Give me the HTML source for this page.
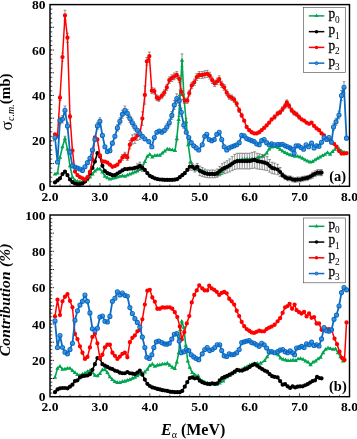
<!DOCTYPE html>
<html lang="en"><head><meta charset="utf-8"><title>Figure</title>
<style>
html,body{margin:0;padding:0;background:#fff;}
body{width:357px;height:439px;overflow:hidden;}
svg{display:block;will-change:transform;}
text{font-family:"Liberation Serif","DejaVu Serif",serif;fill:#000;}
.tk{font-size:13.5px;font-weight:bold;}
.lg{font-size:15.4px;stroke:#000;stroke-width:0.3px;}
.lgs{font-size:9.3px;}
.ax{font-size:15.5px;font-weight:bold;}
.pl{font-size:14.5px;font-weight:bold;}
</style></head><body>
<svg width="357" height="439" viewBox="0 0 357 439">
<rect width="357" height="439" fill="#fff"/>
<g>
<clipPath id="clipa"><rect x="50" y="4.6" width="299.5" height="181.7"/></clipPath>
<g clip-path="url(#clipa)">
<path d="M64.97 136.22V140.99M63.57 136.22h2.8M63.57 140.99h2.8M176.79 136.22V140.99M175.39 136.22h2.8M175.39 140.99h2.8M178.64 116.19V122.86M177.24 116.19h2.8M177.24 122.86h2.8M180.08 89.95V99.13M178.68 89.95h2.8M178.68 99.13h2.8M182.03 53.94V66.55M180.63 53.94h2.8M180.63 66.55h2.8M184.03 94.25V103.01M182.63 94.25h2.8M182.63 103.01h2.8M186.17 118.57V125.02M184.77 118.57h2.8M184.77 125.02h2.8" fill="none" stroke="#5a5a5a" stroke-width="0.65"/>
<path d="M54.99 174.04L57.49 173.13L59.98 157.46L62.48 146.78L64.97 138.6L67.47 149.05L69.97 165.86L72.46 177.22L74.96 180.39L77.45 181.3L79.95 181.76L82.45 181.76L84.94 181.3L87.44 179.94L89.93 177.22L92.43 174.04L94.92 171.08L97.42 169.04L99.92 169.04L102.41 171.99L104.91 176.31L107.4 177.9L109.9 179.03L112.4 178.35L114.89 177.9L117.39 177.22L119.88 176.31L122.38 175.85L124.88 176.31L127.37 175.17L129.87 174.04L132.36 173.13L134.86 171.99L137.35 171.08L139.85 169.72L142.35 167.9L144.84 161.54L147.34 156.32L149.83 154.28L152.33 157L154.82 155.64L157.32 155.41L159.82 155.41L162.31 153.14L164.81 151.1L167.3 149.05L169.8 149.51L172.3 149.96L175.04 150.64L176.79 138.6L178.64 119.53L180.08 94.54L182.03 60.25L184.03 98.63L186.17 121.8L188.27 144.74L190.62 161.54L193.11 166.77L195.26 167.9L197.75 169.95L199.75 169.95L202.25 170.86L204.74 171.99L207.24 173.13L209.73 173.81L212.23 174.04L214.72 174.49L217.22 174.94L219.72 173.81L222.21 171.54L224.71 169.04L227.2 167.22L229.7 165.4L232.2 163.59L234.69 161.77L237.19 160.41L239.68 159.95L242.18 159.5L244.68 159.27L247.17 159.05L249.67 159.05L252.16 159.05L254.66 158.82L257.15 158.36L258.65 157.46L262.64 156.32L266.64 153.14L269.13 149.05L271.63 147.01L274.62 146.55L278.12 147.69L280.12 149.28L282.61 151.1L285.11 152.69L287.6 153.82L290.1 154.96L292.6 155.64L295.09 156.32L297.59 156.32L300.08 157L302.58 158.36L305.07 159.95L307.57 161.09L310.07 162L312.56 161.54L315.06 159.95L317.55 158.36L320.05 157L322.55 155.64L325.04 154.28L327.54 152.69L330.03 154.28L332.53 151.55L335.02 149.28L336.52 146.78L339.02 148.82L341.51 151.1L344.01 152.23" fill="none" stroke="#00a550" stroke-width="1.6" stroke-linejoin="round" stroke-linecap="round"/>
<path d="M54.99 171.64l2.2 3.8h-4.4zM57.49 170.73l2.2 3.8h-4.4zM59.98 155.06l2.2 3.8h-4.4zM62.48 144.38l2.2 3.8h-4.4zM64.97 136.2l2.2 3.8h-4.4zM67.47 146.65l2.2 3.8h-4.4zM69.97 163.46l2.2 3.8h-4.4zM72.46 174.81l2.2 3.8h-4.4zM74.96 177.99l2.2 3.8h-4.4zM77.45 178.9l2.2 3.8h-4.4zM79.95 179.36l2.2 3.8h-4.4zM82.45 179.36l2.2 3.8h-4.4zM84.94 178.9l2.2 3.8h-4.4zM87.44 177.54l2.2 3.8h-4.4zM89.93 174.81l2.2 3.8h-4.4zM92.43 171.64l2.2 3.8h-4.4zM94.92 168.68l2.2 3.8h-4.4zM97.42 166.64l2.2 3.8h-4.4zM99.92 166.64l2.2 3.8h-4.4zM102.41 169.59l2.2 3.8h-4.4zM104.91 173.91l2.2 3.8h-4.4zM107.4 175.5l2.2 3.8h-4.4zM109.9 176.63l2.2 3.8h-4.4zM112.4 175.95l2.2 3.8h-4.4zM114.89 175.5l2.2 3.8h-4.4zM117.39 174.81l2.2 3.8h-4.4zM119.88 173.91l2.2 3.8h-4.4zM122.38 173.45l2.2 3.8h-4.4zM124.88 173.91l2.2 3.8h-4.4zM127.37 172.77l2.2 3.8h-4.4zM129.87 171.64l2.2 3.8h-4.4zM132.36 170.73l2.2 3.8h-4.4zM134.86 169.59l2.2 3.8h-4.4zM137.35 168.68l2.2 3.8h-4.4zM139.85 167.32l2.2 3.8h-4.4zM142.35 165.5l2.2 3.8h-4.4zM144.84 159.14l2.2 3.8h-4.4zM147.34 153.92l2.2 3.8h-4.4zM149.83 151.88l2.2 3.8h-4.4zM152.33 154.6l2.2 3.8h-4.4zM154.82 153.24l2.2 3.8h-4.4zM157.32 153.01l2.2 3.8h-4.4zM159.82 153.01l2.2 3.8h-4.4zM162.31 150.74l2.2 3.8h-4.4zM164.81 148.7l2.2 3.8h-4.4zM167.3 146.65l2.2 3.8h-4.4zM169.8 147.11l2.2 3.8h-4.4zM172.3 147.56l2.2 3.8h-4.4zM175.04 148.24l2.2 3.8h-4.4zM176.79 136.2l2.2 3.8h-4.4zM178.64 117.13l2.2 3.8h-4.4zM180.08 92.14l2.2 3.8h-4.4zM182.03 57.85l2.2 3.8h-4.4zM184.03 96.23l2.2 3.8h-4.4zM186.17 119.4l2.2 3.8h-4.4zM188.27 142.34l2.2 3.8h-4.4zM190.62 159.14l2.2 3.8h-4.4zM193.11 164.37l2.2 3.8h-4.4zM195.26 165.5l2.2 3.8h-4.4zM197.75 167.55l2.2 3.8h-4.4zM199.75 167.55l2.2 3.8h-4.4zM202.25 168.46l2.2 3.8h-4.4zM204.74 169.59l2.2 3.8h-4.4zM207.24 170.73l2.2 3.8h-4.4zM209.73 171.41l2.2 3.8h-4.4zM212.23 171.64l2.2 3.8h-4.4zM214.72 172.09l2.2 3.8h-4.4zM217.22 172.54l2.2 3.8h-4.4zM219.72 171.41l2.2 3.8h-4.4zM222.21 169.14l2.2 3.8h-4.4zM224.71 166.64l2.2 3.8h-4.4zM227.2 164.82l2.2 3.8h-4.4zM229.7 163l2.2 3.8h-4.4zM232.2 161.19l2.2 3.8h-4.4zM234.69 159.37l2.2 3.8h-4.4zM237.19 158.01l2.2 3.8h-4.4zM239.68 157.55l2.2 3.8h-4.4zM242.18 157.1l2.2 3.8h-4.4zM244.68 156.87l2.2 3.8h-4.4zM247.17 156.65l2.2 3.8h-4.4zM249.67 156.65l2.2 3.8h-4.4zM252.16 156.65l2.2 3.8h-4.4zM254.66 156.42l2.2 3.8h-4.4zM257.15 155.96l2.2 3.8h-4.4zM258.65 155.06l2.2 3.8h-4.4zM262.64 153.92l2.2 3.8h-4.4zM266.64 150.74l2.2 3.8h-4.4zM269.13 146.65l2.2 3.8h-4.4zM271.63 144.61l2.2 3.8h-4.4zM274.62 144.15l2.2 3.8h-4.4zM278.12 145.29l2.2 3.8h-4.4zM280.12 146.88l2.2 3.8h-4.4zM282.61 148.7l2.2 3.8h-4.4zM285.11 150.29l2.2 3.8h-4.4zM287.6 151.42l2.2 3.8h-4.4zM290.1 152.56l2.2 3.8h-4.4zM292.6 153.24l2.2 3.8h-4.4zM295.09 153.92l2.2 3.8h-4.4zM297.59 153.92l2.2 3.8h-4.4zM300.08 154.6l2.2 3.8h-4.4zM302.58 155.96l2.2 3.8h-4.4zM305.07 157.55l2.2 3.8h-4.4zM307.57 158.69l2.2 3.8h-4.4zM310.07 159.6l2.2 3.8h-4.4zM312.56 159.14l2.2 3.8h-4.4zM315.06 157.55l2.2 3.8h-4.4zM317.55 155.96l2.2 3.8h-4.4zM320.05 154.6l2.2 3.8h-4.4zM322.55 153.24l2.2 3.8h-4.4zM325.04 151.88l2.2 3.8h-4.4zM327.54 150.29l2.2 3.8h-4.4zM330.03 151.88l2.2 3.8h-4.4zM332.53 149.15l2.2 3.8h-4.4zM335.02 146.88l2.2 3.8h-4.4zM336.52 144.38l2.2 3.8h-4.4zM339.02 146.42l2.2 3.8h-4.4zM341.51 148.7l2.2 3.8h-4.4zM344.01 149.83l2.2 3.8h-4.4z" fill="#00a550"/>
<path d="M137.35 163.81V171.08M135.95 163.81h2.8M135.95 171.08h2.8M139.85 162.22V169.49M138.45 162.22h2.8M138.45 169.49h2.8M142.35 164.27V171.54M140.95 164.27h2.8M140.95 171.54h2.8M189.77 163.36V170.17M188.37 163.36h2.8M188.37 170.17h2.8M192.26 163.36V170.17M190.86 163.36h2.8M190.86 170.17h2.8M194.76 165.18V171.99M193.36 165.18h2.8M193.36 171.99h2.8M197.25 163.36V170.17M195.85 163.36h2.8M195.85 170.17h2.8M199.75 166.07V175.64M198.35 166.07h2.8M198.35 175.64h2.8M202.25 167.56V176.43M200.85 167.56h2.8M200.85 176.43h2.8M204.74 169.04V177.21M203.34 169.04h2.8M203.34 177.21h2.8M207.24 169.94V177.68M205.84 169.94h2.8M205.84 177.68h2.8M209.73 170.23V177.84M208.33 170.23h2.8M208.33 177.84h2.8M212.23 169.94V177.68M210.83 169.94h2.8M210.83 177.68h2.8M214.72 170.23V177.84M213.32 170.23h2.8M213.32 177.84h2.8M217.22 169.04V177.21M215.82 169.04h2.8M215.82 177.21h2.8M219.72 166.37V175.8M218.32 166.37h2.8M218.32 175.8h2.8M222.21 163.69V174.39M220.81 163.69h2.8M220.81 174.39h2.8M224.71 162.2V173.61M223.31 162.2h2.8M223.31 173.61h2.8M227.2 160.71V172.82M225.8 160.71h2.8M225.8 172.82h2.8M229.7 158.93V171.88M228.3 158.93h2.8M228.3 171.88h2.8M232.2 156.55V170.63M230.8 156.55h2.8M230.8 170.63h2.8M234.69 154.46V169.53M233.29 154.46h2.8M233.29 169.53h2.8M237.19 153.27V168.9M235.79 153.27h2.8M235.79 168.9h2.8M239.68 153.27V168.9M238.28 153.27h2.8M238.28 168.9h2.8M242.18 153.27V168.9M240.78 153.27h2.8M240.78 168.9h2.8M244.68 153.27V168.9M243.28 153.27h2.8M243.28 168.9h2.8M247.17 153.27V168.9M245.77 153.27h2.8M245.77 168.9h2.8M249.67 153.27V168.9M248.27 153.27h2.8M248.27 168.9h2.8M252.16 152.38V168.43M250.76 152.38h2.8M250.76 168.43h2.8M254.66 151.79V168.12M253.26 151.79h2.8M253.26 168.12h2.8M257.15 153.27V168.9M255.75 153.27h2.8M255.75 168.9h2.8M259.65 153.87V169.22M258.25 153.87h2.8M258.25 169.22h2.8M262.15 154.46V169.53M260.75 154.46h2.8M260.75 169.53h2.8M264.64 155.36V170M263.24 155.36h2.8M263.24 170h2.8M267.14 156.55V170.63M265.74 156.55h2.8M265.74 170.63h2.8M269.63 159.52V172.2M268.23 159.52h2.8M268.23 172.2h2.8M272.13 162.2V173.61M270.73 162.2h2.8M270.73 173.61h2.8M274.62 163.09V174.08M273.23 163.09h2.8M273.23 174.08h2.8M277.62 164.28V174.7M276.22 164.28h2.8M276.22 174.7h2.8M280.12 167.56V176.43M278.72 167.56h2.8M278.72 176.43h2.8M282.61 172.79V177.56M281.21 172.79h2.8M281.21 177.56h2.8M285.11 174.83V179.6M283.71 174.83h2.8M283.71 179.6h2.8M287.6 175.97V180.74M286.2 175.97h2.8M286.2 180.74h2.8M290.1 175.97V180.74M288.7 175.97h2.8M288.7 180.74h2.8M292.6 177.1V181.87M291.2 177.1h2.8M291.2 181.87h2.8M295.09 177.56V182.33M293.69 177.56h2.8M293.69 182.33h2.8M297.59 177.1V181.87M296.19 177.1h2.8M296.19 181.87h2.8M300.08 177.1V181.87M298.68 177.1h2.8M298.68 181.87h2.8M302.58 176.42V181.19M301.18 176.42h2.8M301.18 181.19h2.8M305.07 175.97V180.74M303.67 175.97h2.8M303.67 180.74h2.8M307.57 175.51V180.28M306.17 175.51h2.8M306.17 180.28h2.8M310.07 174.38V179.15M308.67 174.38h2.8M308.67 179.15h2.8M312.56 172.22V178.12M311.16 172.22h2.8M311.16 178.12h2.8M315.06 170.86V176.76M313.66 170.86h2.8M313.66 176.76h2.8M317.55 169.72V175.63M316.15 169.72h2.8M316.15 175.63h2.8M320.05 169.72V175.63M318.65 169.72h2.8M318.65 175.63h2.8M321.55 169.72V175.63M320.15 169.72h2.8M320.15 175.63h2.8" fill="none" stroke="#5a5a5a" stroke-width="0.65"/>
<path d="M54.99 182.44L57.49 180.39L59.98 178.35L62.48 174.04L64.97 171.54L67.47 175.17L69.97 179.49L72.46 182.21L74.96 183.57L77.45 184.03L79.95 184.03L82.45 183.57L84.94 181.53L87.44 178.35L89.93 173.13L92.43 167.9L94.92 161.54L97.42 153.14L99.92 156.32L102.41 165.86L104.91 171.08L107.4 173.13L109.9 174.04L112.4 175.17L114.89 175.17L117.39 173.58L119.88 171.99L122.38 170.4L124.88 169.04L127.37 169.04L129.87 168.58L132.36 168.58L134.86 167.9L137.35 167.45L139.85 165.86L142.35 167.9L144.84 169.95L147.34 173.13L149.83 175.85L152.33 177.22L154.82 178.35L157.32 179.03L159.82 179.49L162.31 179.71L164.81 179.94L167.3 179.94L169.8 179.94L172.3 179.94L174.79 179.71L177.29 179.03L179.78 177.22L182.28 175.17L184.78 173.13L187.27 169.95L189.77 166.77L192.26 166.77L194.76 168.58L197.25 166.77L199.75 170.86L202.25 171.99L204.74 173.13L207.24 173.81L209.73 174.04L212.23 173.81L214.72 174.04L217.22 173.13L219.72 171.08L222.21 169.04L224.71 167.9L227.2 166.77L229.7 165.4L232.2 163.59L234.69 162L237.19 161.09L239.68 161.09L242.18 161.09L244.68 161.09L247.17 161.09L249.67 161.09L252.16 160.41L254.66 159.95L257.15 161.09L259.65 161.54L262.15 162L264.64 162.68L267.14 163.59L269.63 165.86L272.13 167.9L274.62 168.58L277.62 169.49L280.12 171.99L282.61 175.17L285.11 177.22L287.6 178.35L290.1 178.35L292.6 179.49L295.09 179.94L297.59 179.49L300.08 179.49L302.58 178.8L305.07 178.35L307.57 177.9L310.07 176.76L312.56 175.17L315.06 173.81L317.55 172.67L320.05 172.67L321.55 172.67" fill="none" stroke="#000000" stroke-width="1.6" stroke-linejoin="round" stroke-linecap="round"/>
<path d="M52.89 182.44a2.1 2.1 0 1 0 4.2 0a2.1 2.1 0 1 0 -4.2 0zM55.39 180.39a2.1 2.1 0 1 0 4.2 0a2.1 2.1 0 1 0 -4.2 0zM57.88 178.35a2.1 2.1 0 1 0 4.2 0a2.1 2.1 0 1 0 -4.2 0zM60.38 174.04a2.1 2.1 0 1 0 4.2 0a2.1 2.1 0 1 0 -4.2 0zM62.87 171.54a2.1 2.1 0 1 0 4.2 0a2.1 2.1 0 1 0 -4.2 0zM65.37 175.17a2.1 2.1 0 1 0 4.2 0a2.1 2.1 0 1 0 -4.2 0zM67.87 179.49a2.1 2.1 0 1 0 4.2 0a2.1 2.1 0 1 0 -4.2 0zM70.36 182.21a2.1 2.1 0 1 0 4.2 0a2.1 2.1 0 1 0 -4.2 0zM72.86 183.57a2.1 2.1 0 1 0 4.2 0a2.1 2.1 0 1 0 -4.2 0zM75.35 184.03a2.1 2.1 0 1 0 4.2 0a2.1 2.1 0 1 0 -4.2 0zM77.85 184.03a2.1 2.1 0 1 0 4.2 0a2.1 2.1 0 1 0 -4.2 0zM80.35 183.57a2.1 2.1 0 1 0 4.2 0a2.1 2.1 0 1 0 -4.2 0zM82.84 181.53a2.1 2.1 0 1 0 4.2 0a2.1 2.1 0 1 0 -4.2 0zM85.34 178.35a2.1 2.1 0 1 0 4.2 0a2.1 2.1 0 1 0 -4.2 0zM87.83 173.13a2.1 2.1 0 1 0 4.2 0a2.1 2.1 0 1 0 -4.2 0zM90.33 167.9a2.1 2.1 0 1 0 4.2 0a2.1 2.1 0 1 0 -4.2 0zM92.82 161.54a2.1 2.1 0 1 0 4.2 0a2.1 2.1 0 1 0 -4.2 0zM95.32 153.14a2.1 2.1 0 1 0 4.2 0a2.1 2.1 0 1 0 -4.2 0zM97.82 156.32a2.1 2.1 0 1 0 4.2 0a2.1 2.1 0 1 0 -4.2 0zM100.31 165.86a2.1 2.1 0 1 0 4.2 0a2.1 2.1 0 1 0 -4.2 0zM102.81 171.08a2.1 2.1 0 1 0 4.2 0a2.1 2.1 0 1 0 -4.2 0zM105.3 173.13a2.1 2.1 0 1 0 4.2 0a2.1 2.1 0 1 0 -4.2 0zM107.8 174.04a2.1 2.1 0 1 0 4.2 0a2.1 2.1 0 1 0 -4.2 0zM110.3 175.17a2.1 2.1 0 1 0 4.2 0a2.1 2.1 0 1 0 -4.2 0zM112.79 175.17a2.1 2.1 0 1 0 4.2 0a2.1 2.1 0 1 0 -4.2 0zM115.29 173.58a2.1 2.1 0 1 0 4.2 0a2.1 2.1 0 1 0 -4.2 0zM117.78 171.99a2.1 2.1 0 1 0 4.2 0a2.1 2.1 0 1 0 -4.2 0zM120.28 170.4a2.1 2.1 0 1 0 4.2 0a2.1 2.1 0 1 0 -4.2 0zM122.78 169.04a2.1 2.1 0 1 0 4.2 0a2.1 2.1 0 1 0 -4.2 0zM125.27 169.04a2.1 2.1 0 1 0 4.2 0a2.1 2.1 0 1 0 -4.2 0zM127.77 168.58a2.1 2.1 0 1 0 4.2 0a2.1 2.1 0 1 0 -4.2 0zM130.26 168.58a2.1 2.1 0 1 0 4.2 0a2.1 2.1 0 1 0 -4.2 0zM132.76 167.9a2.1 2.1 0 1 0 4.2 0a2.1 2.1 0 1 0 -4.2 0zM135.25 167.45a2.1 2.1 0 1 0 4.2 0a2.1 2.1 0 1 0 -4.2 0zM137.75 165.86a2.1 2.1 0 1 0 4.2 0a2.1 2.1 0 1 0 -4.2 0zM140.25 167.9a2.1 2.1 0 1 0 4.2 0a2.1 2.1 0 1 0 -4.2 0zM142.74 169.95a2.1 2.1 0 1 0 4.2 0a2.1 2.1 0 1 0 -4.2 0zM145.24 173.13a2.1 2.1 0 1 0 4.2 0a2.1 2.1 0 1 0 -4.2 0zM147.73 175.85a2.1 2.1 0 1 0 4.2 0a2.1 2.1 0 1 0 -4.2 0zM150.23 177.22a2.1 2.1 0 1 0 4.2 0a2.1 2.1 0 1 0 -4.2 0zM152.72 178.35a2.1 2.1 0 1 0 4.2 0a2.1 2.1 0 1 0 -4.2 0zM155.22 179.03a2.1 2.1 0 1 0 4.2 0a2.1 2.1 0 1 0 -4.2 0zM157.72 179.49a2.1 2.1 0 1 0 4.2 0a2.1 2.1 0 1 0 -4.2 0zM160.21 179.71a2.1 2.1 0 1 0 4.2 0a2.1 2.1 0 1 0 -4.2 0zM162.71 179.94a2.1 2.1 0 1 0 4.2 0a2.1 2.1 0 1 0 -4.2 0zM165.2 179.94a2.1 2.1 0 1 0 4.2 0a2.1 2.1 0 1 0 -4.2 0zM167.7 179.94a2.1 2.1 0 1 0 4.2 0a2.1 2.1 0 1 0 -4.2 0zM170.2 179.94a2.1 2.1 0 1 0 4.2 0a2.1 2.1 0 1 0 -4.2 0zM172.69 179.71a2.1 2.1 0 1 0 4.2 0a2.1 2.1 0 1 0 -4.2 0zM175.19 179.03a2.1 2.1 0 1 0 4.2 0a2.1 2.1 0 1 0 -4.2 0zM177.68 177.22a2.1 2.1 0 1 0 4.2 0a2.1 2.1 0 1 0 -4.2 0zM180.18 175.17a2.1 2.1 0 1 0 4.2 0a2.1 2.1 0 1 0 -4.2 0zM182.68 173.13a2.1 2.1 0 1 0 4.2 0a2.1 2.1 0 1 0 -4.2 0zM185.17 169.95a2.1 2.1 0 1 0 4.2 0a2.1 2.1 0 1 0 -4.2 0zM187.67 166.77a2.1 2.1 0 1 0 4.2 0a2.1 2.1 0 1 0 -4.2 0zM190.16 166.77a2.1 2.1 0 1 0 4.2 0a2.1 2.1 0 1 0 -4.2 0zM192.66 168.58a2.1 2.1 0 1 0 4.2 0a2.1 2.1 0 1 0 -4.2 0zM195.15 166.77a2.1 2.1 0 1 0 4.2 0a2.1 2.1 0 1 0 -4.2 0zM197.65 170.86a2.1 2.1 0 1 0 4.2 0a2.1 2.1 0 1 0 -4.2 0zM200.15 171.99a2.1 2.1 0 1 0 4.2 0a2.1 2.1 0 1 0 -4.2 0zM202.64 173.13a2.1 2.1 0 1 0 4.2 0a2.1 2.1 0 1 0 -4.2 0zM205.14 173.81a2.1 2.1 0 1 0 4.2 0a2.1 2.1 0 1 0 -4.2 0zM207.63 174.04a2.1 2.1 0 1 0 4.2 0a2.1 2.1 0 1 0 -4.2 0zM210.13 173.81a2.1 2.1 0 1 0 4.2 0a2.1 2.1 0 1 0 -4.2 0zM212.62 174.04a2.1 2.1 0 1 0 4.2 0a2.1 2.1 0 1 0 -4.2 0zM215.12 173.13a2.1 2.1 0 1 0 4.2 0a2.1 2.1 0 1 0 -4.2 0zM217.62 171.08a2.1 2.1 0 1 0 4.2 0a2.1 2.1 0 1 0 -4.2 0zM220.11 169.04a2.1 2.1 0 1 0 4.2 0a2.1 2.1 0 1 0 -4.2 0zM222.61 167.9a2.1 2.1 0 1 0 4.2 0a2.1 2.1 0 1 0 -4.2 0zM225.1 166.77a2.1 2.1 0 1 0 4.2 0a2.1 2.1 0 1 0 -4.2 0zM227.6 165.4a2.1 2.1 0 1 0 4.2 0a2.1 2.1 0 1 0 -4.2 0zM230.1 163.59a2.1 2.1 0 1 0 4.2 0a2.1 2.1 0 1 0 -4.2 0zM232.59 162a2.1 2.1 0 1 0 4.2 0a2.1 2.1 0 1 0 -4.2 0zM235.09 161.09a2.1 2.1 0 1 0 4.2 0a2.1 2.1 0 1 0 -4.2 0zM237.58 161.09a2.1 2.1 0 1 0 4.2 0a2.1 2.1 0 1 0 -4.2 0zM240.08 161.09a2.1 2.1 0 1 0 4.2 0a2.1 2.1 0 1 0 -4.2 0zM242.58 161.09a2.1 2.1 0 1 0 4.2 0a2.1 2.1 0 1 0 -4.2 0zM245.07 161.09a2.1 2.1 0 1 0 4.2 0a2.1 2.1 0 1 0 -4.2 0zM247.57 161.09a2.1 2.1 0 1 0 4.2 0a2.1 2.1 0 1 0 -4.2 0zM250.06 160.41a2.1 2.1 0 1 0 4.2 0a2.1 2.1 0 1 0 -4.2 0zM252.56 159.95a2.1 2.1 0 1 0 4.2 0a2.1 2.1 0 1 0 -4.2 0zM255.05 161.09a2.1 2.1 0 1 0 4.2 0a2.1 2.1 0 1 0 -4.2 0zM257.55 161.54a2.1 2.1 0 1 0 4.2 0a2.1 2.1 0 1 0 -4.2 0zM260.05 162a2.1 2.1 0 1 0 4.2 0a2.1 2.1 0 1 0 -4.2 0zM262.54 162.68a2.1 2.1 0 1 0 4.2 0a2.1 2.1 0 1 0 -4.2 0zM265.04 163.59a2.1 2.1 0 1 0 4.2 0a2.1 2.1 0 1 0 -4.2 0zM267.53 165.86a2.1 2.1 0 1 0 4.2 0a2.1 2.1 0 1 0 -4.2 0zM270.03 167.9a2.1 2.1 0 1 0 4.2 0a2.1 2.1 0 1 0 -4.2 0zM272.52 168.58a2.1 2.1 0 1 0 4.2 0a2.1 2.1 0 1 0 -4.2 0zM275.52 169.49a2.1 2.1 0 1 0 4.2 0a2.1 2.1 0 1 0 -4.2 0zM278.02 171.99a2.1 2.1 0 1 0 4.2 0a2.1 2.1 0 1 0 -4.2 0zM280.51 175.17a2.1 2.1 0 1 0 4.2 0a2.1 2.1 0 1 0 -4.2 0zM283.01 177.22a2.1 2.1 0 1 0 4.2 0a2.1 2.1 0 1 0 -4.2 0zM285.5 178.35a2.1 2.1 0 1 0 4.2 0a2.1 2.1 0 1 0 -4.2 0zM288 178.35a2.1 2.1 0 1 0 4.2 0a2.1 2.1 0 1 0 -4.2 0zM290.5 179.49a2.1 2.1 0 1 0 4.2 0a2.1 2.1 0 1 0 -4.2 0zM292.99 179.94a2.1 2.1 0 1 0 4.2 0a2.1 2.1 0 1 0 -4.2 0zM295.49 179.49a2.1 2.1 0 1 0 4.2 0a2.1 2.1 0 1 0 -4.2 0zM297.98 179.49a2.1 2.1 0 1 0 4.2 0a2.1 2.1 0 1 0 -4.2 0zM300.48 178.8a2.1 2.1 0 1 0 4.2 0a2.1 2.1 0 1 0 -4.2 0zM302.97 178.35a2.1 2.1 0 1 0 4.2 0a2.1 2.1 0 1 0 -4.2 0zM305.47 177.9a2.1 2.1 0 1 0 4.2 0a2.1 2.1 0 1 0 -4.2 0zM307.97 176.76a2.1 2.1 0 1 0 4.2 0a2.1 2.1 0 1 0 -4.2 0zM310.46 175.17a2.1 2.1 0 1 0 4.2 0a2.1 2.1 0 1 0 -4.2 0zM312.96 173.81a2.1 2.1 0 1 0 4.2 0a2.1 2.1 0 1 0 -4.2 0zM315.45 172.67a2.1 2.1 0 1 0 4.2 0a2.1 2.1 0 1 0 -4.2 0zM317.95 172.67a2.1 2.1 0 1 0 4.2 0a2.1 2.1 0 1 0 -4.2 0zM319.45 172.67a2.1 2.1 0 1 0 4.2 0a2.1 2.1 0 1 0 -4.2 0z" fill="#000000"/>
<path d="M59.98 94.98V100.47M58.58 94.98h2.8M58.58 100.47h2.8M62.48 53.06V61.07M61.08 53.06h2.8M61.08 61.07h2.8M64.97 10.21V20.8M63.57 10.21h2.8M63.57 20.8h2.8M67.47 33.16V42.36M66.07 33.16h2.8M66.07 42.36h2.8M69.97 114.41V118.73M68.57 114.41h2.8M68.57 118.73h2.8M122.38 154.57V160.34M120.98 154.57h2.8M120.98 160.34h2.8M124.88 152.32V158.5M123.47 152.32h2.8M123.47 158.5h2.8M127.37 154.57V160.34M125.97 154.57h2.8M125.97 160.34h2.8M129.87 140.58V148.89M128.47 140.58h2.8M128.47 148.89h2.8M132.36 134.83V144.19M130.96 134.83h2.8M130.96 144.19h2.8M134.86 133.83V143.37M133.46 133.83h2.8M133.46 143.37h2.8M137.35 130.34V140.51M135.95 130.34h2.8M135.95 140.51h2.8M139.85 129.09V139.49M138.45 129.09h2.8M138.45 139.49h2.8M142.35 111.85V125.39M140.95 111.85h2.8M140.95 125.39h2.8M144.84 85.87V104.13M143.44 85.87h2.8M143.44 104.13h2.8M146.84 57.51V65.25M145.44 57.51h2.8M145.44 65.25h2.8M149.33 52.12V60.19M147.93 52.12h2.8M147.93 60.19h2.8M151.83 87.72V93.64M150.43 87.72h2.8M150.43 93.64h2.8M154.33 88.18V94.08M152.93 88.18h2.8M152.93 94.08h2.8M156.82 94.98V100.47M155.42 94.98h2.8M155.42 100.47h2.8M158.82 95.91V101.35M157.42 95.91h2.8M157.42 101.35h2.8M161.81 93.1V98.71M160.41 93.1h2.8M160.41 98.71h2.8M164.31 89.82V95.63M162.91 89.82h2.8M162.91 95.63h2.8M166.81 84.44V90.56M165.41 84.44h2.8M165.41 90.56h2.8M169.3 76.94V83.52M167.9 76.94h2.8M167.9 83.52h2.8M171.8 74.84V81.54M170.4 74.84h2.8M170.4 81.54h2.8M174.29 72.96V79.78M172.89 72.96h2.8M172.89 79.78h2.8M176.79 71.56V78.46M175.39 71.56h2.8M175.39 78.46h2.8M179.28 75.77V82.42M177.88 75.77h2.8M177.88 82.42h2.8M181.28 88.89V94.75M179.88 88.89h2.8M179.88 94.75h2.8M184.78 98.02V103.33M183.38 98.02h2.8M183.38 103.33h2.8M187.27 98.02V103.33M185.87 98.02h2.8M185.87 103.33h2.8M189.27 90.29V96.07M187.87 90.29h2.8M187.87 96.07h2.8M191.76 82.33V88.58M190.36 82.33h2.8M190.36 88.58h2.8M194.26 79.05V85.5M192.86 79.05h2.8M192.86 85.5h2.8M196.76 73.67V80.44M195.36 73.67h2.8M195.36 80.44h2.8M199.25 71.56V78.46M197.85 71.56h2.8M197.85 78.46h2.8M202.25 71.56V78.46M200.85 71.56h2.8M200.85 78.46h2.8M204.74 70.86V77.8M203.34 70.86h2.8M203.34 77.8h2.8M207.24 70.39V77.36M205.84 70.39h2.8M205.84 77.36h2.8M209.73 72.26V79.12M208.33 72.26h2.8M208.33 79.12h2.8M212.23 76.94V83.52M210.83 76.94h2.8M210.83 83.52h2.8M214.72 80.22V86.6M213.32 80.22h2.8M213.32 86.6h2.8M217.22 78.12V84.62M215.82 78.12h2.8M215.82 84.62h2.8M219.22 75.77V82.42M217.82 75.77h2.8M217.82 82.42h2.8M221.71 81.16V87.48M220.31 81.16h2.8M220.31 87.48h2.8M224.21 84.44V90.56M222.81 84.44h2.8M222.81 90.56h2.8M226.71 89.82V95.63M225.31 89.82h2.8M225.31 95.63h2.8M229.2 93.8V99.37M227.8 93.8h2.8M227.8 99.37h2.8M231.7 94.98V100.47M230.3 94.98h2.8M230.3 100.47h2.8M234.19 97.08V102.45M232.79 97.08h2.8M232.79 102.45h2.8M236.69 101.3V106.41M235.29 101.3h2.8M235.29 106.41h2.8M239.18 107.85V112.57M237.78 107.85h2.8M237.78 112.57h2.8M241.68 113.24V117.63M240.28 113.24h2.8M240.28 117.63h2.8M274.62 114.88V119.17M273.23 114.88h2.8M273.23 119.17h2.8M277.62 111.37V115.87M276.22 111.37h2.8M276.22 115.87h2.8M280.12 109.96V114.55M278.72 109.96h2.8M278.72 114.55h2.8M282.61 106.68V111.47M281.21 106.68h2.8M281.21 111.47h2.8M285.11 103.41V108.39M283.71 103.41h2.8M283.71 108.39h2.8M286.85 99.89V105.09M285.45 99.89h2.8M285.45 105.09h2.8M289.1 103.41V108.39M287.7 103.41h2.8M287.7 108.39h2.8M291.6 107.85V112.57M290.2 107.85h2.8M290.2 112.57h2.8M294.09 110.66V115.21M292.69 110.66h2.8M292.69 115.21h2.8M296.59 112.07V116.53M295.19 112.07h2.8M295.19 116.53h2.8M299.08 114.88V119.17M297.68 114.88h2.8M297.68 119.17h2.8" fill="none" stroke="#5a5a5a" stroke-width="0.65"/>
<path d="M54.99 134.29L57.49 136.33L59.98 97.72L62.48 57.07L64.97 15.5L67.47 37.76L69.97 116.57L72.46 150.64L74.96 171.54L77.45 175.17L79.95 177.22L82.45 178.35L84.94 179.49L87.44 177.22L89.93 171.99L92.43 159.5L94.92 137.47L97.42 139.51L99.92 155.41L102.41 161.32L104.91 161.54L107.4 162.68L109.9 164.72L112.4 166.77L114.89 166.09L117.39 164.72L119.88 161.32L122.38 157.46L124.88 155.41L127.37 157.46L129.87 144.74L132.36 139.51L134.86 138.6L137.35 135.42L139.85 134.29L142.35 118.62L144.84 95L146.84 61.38L149.33 56.16L151.83 90.68L154.33 91.13L156.82 97.72L158.82 98.63L161.81 95.9L164.31 92.72L166.81 87.5L169.3 80.23L171.8 78.19L174.29 76.37L176.79 75.01L179.28 79.1L181.28 91.82L184.78 100.67L187.27 100.67L189.27 93.18L191.76 85.46L194.26 82.28L196.76 77.05L199.25 75.01L202.25 75.01L204.74 74.33L207.24 73.87L209.73 75.69L212.23 80.23L214.72 83.41L217.22 81.37L219.22 79.1L221.71 84.32L224.21 87.5L226.71 92.72L229.2 96.59L231.7 97.72L234.19 99.77L236.69 103.85L239.18 110.21L241.68 115.44L244.18 120.66L246.67 127.02L249.17 130.2L251.66 132.24L254.16 133.38L256.65 133.38L259.15 132.24L261.65 130.2L264.14 127.93L266.64 125.43L269.13 122.71L271.63 119.53L274.62 117.03L277.62 113.62L280.12 112.26L282.61 109.08L285.11 105.9L286.85 102.49L289.1 105.9L291.6 110.21L294.09 112.94L296.59 114.3L299.08 117.03L301.58 119.3L304.08 120.66L306.57 122.71L309.07 123.84L311.56 122.71L314.06 125.88L316.56 128.38L319.05 130.2L321.55 133.38L324.04 135.42L326.54 138.6L329.03 139.51L331.53 142.24L334.03 143.83L336.52 146.55L339.02 151.1L341.51 153.59L344.01 153.59L346.51 153.14" fill="none" stroke="#ff0000" stroke-width="1.5" stroke-linejoin="round" stroke-linecap="round"/>
<path d="M52.84 134.29a2.15 2.15 0 1 0 4.3 0a2.15 2.15 0 1 0 -4.3 0zM55.34 136.33a2.15 2.15 0 1 0 4.3 0a2.15 2.15 0 1 0 -4.3 0zM57.83 97.72a2.15 2.15 0 1 0 4.3 0a2.15 2.15 0 1 0 -4.3 0zM60.33 57.07a2.15 2.15 0 1 0 4.3 0a2.15 2.15 0 1 0 -4.3 0zM62.82 15.5a2.15 2.15 0 1 0 4.3 0a2.15 2.15 0 1 0 -4.3 0zM65.32 37.76a2.15 2.15 0 1 0 4.3 0a2.15 2.15 0 1 0 -4.3 0zM67.82 116.57a2.15 2.15 0 1 0 4.3 0a2.15 2.15 0 1 0 -4.3 0zM70.31 150.64a2.15 2.15 0 1 0 4.3 0a2.15 2.15 0 1 0 -4.3 0zM72.81 171.54a2.15 2.15 0 1 0 4.3 0a2.15 2.15 0 1 0 -4.3 0zM75.3 175.17a2.15 2.15 0 1 0 4.3 0a2.15 2.15 0 1 0 -4.3 0zM77.8 177.22a2.15 2.15 0 1 0 4.3 0a2.15 2.15 0 1 0 -4.3 0zM80.3 178.35a2.15 2.15 0 1 0 4.3 0a2.15 2.15 0 1 0 -4.3 0zM82.79 179.49a2.15 2.15 0 1 0 4.3 0a2.15 2.15 0 1 0 -4.3 0zM85.29 177.22a2.15 2.15 0 1 0 4.3 0a2.15 2.15 0 1 0 -4.3 0zM87.78 171.99a2.15 2.15 0 1 0 4.3 0a2.15 2.15 0 1 0 -4.3 0zM90.28 159.5a2.15 2.15 0 1 0 4.3 0a2.15 2.15 0 1 0 -4.3 0zM92.77 137.47a2.15 2.15 0 1 0 4.3 0a2.15 2.15 0 1 0 -4.3 0zM95.27 139.51a2.15 2.15 0 1 0 4.3 0a2.15 2.15 0 1 0 -4.3 0zM97.77 155.41a2.15 2.15 0 1 0 4.3 0a2.15 2.15 0 1 0 -4.3 0zM100.26 161.32a2.15 2.15 0 1 0 4.3 0a2.15 2.15 0 1 0 -4.3 0zM102.76 161.54a2.15 2.15 0 1 0 4.3 0a2.15 2.15 0 1 0 -4.3 0zM105.25 162.68a2.15 2.15 0 1 0 4.3 0a2.15 2.15 0 1 0 -4.3 0zM107.75 164.72a2.15 2.15 0 1 0 4.3 0a2.15 2.15 0 1 0 -4.3 0zM110.25 166.77a2.15 2.15 0 1 0 4.3 0a2.15 2.15 0 1 0 -4.3 0zM112.74 166.09a2.15 2.15 0 1 0 4.3 0a2.15 2.15 0 1 0 -4.3 0zM115.24 164.72a2.15 2.15 0 1 0 4.3 0a2.15 2.15 0 1 0 -4.3 0zM117.73 161.32a2.15 2.15 0 1 0 4.3 0a2.15 2.15 0 1 0 -4.3 0zM120.23 157.46a2.15 2.15 0 1 0 4.3 0a2.15 2.15 0 1 0 -4.3 0zM122.72 155.41a2.15 2.15 0 1 0 4.3 0a2.15 2.15 0 1 0 -4.3 0zM125.22 157.46a2.15 2.15 0 1 0 4.3 0a2.15 2.15 0 1 0 -4.3 0zM127.72 144.74a2.15 2.15 0 1 0 4.3 0a2.15 2.15 0 1 0 -4.3 0zM130.21 139.51a2.15 2.15 0 1 0 4.3 0a2.15 2.15 0 1 0 -4.3 0zM132.71 138.6a2.15 2.15 0 1 0 4.3 0a2.15 2.15 0 1 0 -4.3 0zM135.2 135.42a2.15 2.15 0 1 0 4.3 0a2.15 2.15 0 1 0 -4.3 0zM137.7 134.29a2.15 2.15 0 1 0 4.3 0a2.15 2.15 0 1 0 -4.3 0zM140.2 118.62a2.15 2.15 0 1 0 4.3 0a2.15 2.15 0 1 0 -4.3 0zM142.69 95a2.15 2.15 0 1 0 4.3 0a2.15 2.15 0 1 0 -4.3 0zM144.69 61.38a2.15 2.15 0 1 0 4.3 0a2.15 2.15 0 1 0 -4.3 0zM147.18 56.16a2.15 2.15 0 1 0 4.3 0a2.15 2.15 0 1 0 -4.3 0zM149.68 90.68a2.15 2.15 0 1 0 4.3 0a2.15 2.15 0 1 0 -4.3 0zM152.18 91.13a2.15 2.15 0 1 0 4.3 0a2.15 2.15 0 1 0 -4.3 0zM154.67 97.72a2.15 2.15 0 1 0 4.3 0a2.15 2.15 0 1 0 -4.3 0zM156.67 98.63a2.15 2.15 0 1 0 4.3 0a2.15 2.15 0 1 0 -4.3 0zM159.66 95.9a2.15 2.15 0 1 0 4.3 0a2.15 2.15 0 1 0 -4.3 0zM162.16 92.72a2.15 2.15 0 1 0 4.3 0a2.15 2.15 0 1 0 -4.3 0zM164.66 87.5a2.15 2.15 0 1 0 4.3 0a2.15 2.15 0 1 0 -4.3 0zM167.15 80.23a2.15 2.15 0 1 0 4.3 0a2.15 2.15 0 1 0 -4.3 0zM169.65 78.19a2.15 2.15 0 1 0 4.3 0a2.15 2.15 0 1 0 -4.3 0zM172.14 76.37a2.15 2.15 0 1 0 4.3 0a2.15 2.15 0 1 0 -4.3 0zM174.64 75.01a2.15 2.15 0 1 0 4.3 0a2.15 2.15 0 1 0 -4.3 0zM177.13 79.1a2.15 2.15 0 1 0 4.3 0a2.15 2.15 0 1 0 -4.3 0zM179.13 91.82a2.15 2.15 0 1 0 4.3 0a2.15 2.15 0 1 0 -4.3 0zM182.62 100.67a2.15 2.15 0 1 0 4.3 0a2.15 2.15 0 1 0 -4.3 0zM185.12 100.67a2.15 2.15 0 1 0 4.3 0a2.15 2.15 0 1 0 -4.3 0zM187.12 93.18a2.15 2.15 0 1 0 4.3 0a2.15 2.15 0 1 0 -4.3 0zM189.61 85.46a2.15 2.15 0 1 0 4.3 0a2.15 2.15 0 1 0 -4.3 0zM192.11 82.28a2.15 2.15 0 1 0 4.3 0a2.15 2.15 0 1 0 -4.3 0zM194.61 77.05a2.15 2.15 0 1 0 4.3 0a2.15 2.15 0 1 0 -4.3 0zM197.1 75.01a2.15 2.15 0 1 0 4.3 0a2.15 2.15 0 1 0 -4.3 0zM200.1 75.01a2.15 2.15 0 1 0 4.3 0a2.15 2.15 0 1 0 -4.3 0zM202.59 74.33a2.15 2.15 0 1 0 4.3 0a2.15 2.15 0 1 0 -4.3 0zM205.09 73.87a2.15 2.15 0 1 0 4.3 0a2.15 2.15 0 1 0 -4.3 0zM207.58 75.69a2.15 2.15 0 1 0 4.3 0a2.15 2.15 0 1 0 -4.3 0zM210.08 80.23a2.15 2.15 0 1 0 4.3 0a2.15 2.15 0 1 0 -4.3 0zM212.57 83.41a2.15 2.15 0 1 0 4.3 0a2.15 2.15 0 1 0 -4.3 0zM215.07 81.37a2.15 2.15 0 1 0 4.3 0a2.15 2.15 0 1 0 -4.3 0zM217.07 79.1a2.15 2.15 0 1 0 4.3 0a2.15 2.15 0 1 0 -4.3 0zM219.56 84.32a2.15 2.15 0 1 0 4.3 0a2.15 2.15 0 1 0 -4.3 0zM222.06 87.5a2.15 2.15 0 1 0 4.3 0a2.15 2.15 0 1 0 -4.3 0zM224.56 92.72a2.15 2.15 0 1 0 4.3 0a2.15 2.15 0 1 0 -4.3 0zM227.05 96.59a2.15 2.15 0 1 0 4.3 0a2.15 2.15 0 1 0 -4.3 0zM229.55 97.72a2.15 2.15 0 1 0 4.3 0a2.15 2.15 0 1 0 -4.3 0zM232.04 99.77a2.15 2.15 0 1 0 4.3 0a2.15 2.15 0 1 0 -4.3 0zM234.54 103.85a2.15 2.15 0 1 0 4.3 0a2.15 2.15 0 1 0 -4.3 0zM237.03 110.21a2.15 2.15 0 1 0 4.3 0a2.15 2.15 0 1 0 -4.3 0zM239.53 115.44a2.15 2.15 0 1 0 4.3 0a2.15 2.15 0 1 0 -4.3 0zM242.03 120.66a2.15 2.15 0 1 0 4.3 0a2.15 2.15 0 1 0 -4.3 0zM244.52 127.02a2.15 2.15 0 1 0 4.3 0a2.15 2.15 0 1 0 -4.3 0zM247.02 130.2a2.15 2.15 0 1 0 4.3 0a2.15 2.15 0 1 0 -4.3 0zM249.51 132.24a2.15 2.15 0 1 0 4.3 0a2.15 2.15 0 1 0 -4.3 0zM252.01 133.38a2.15 2.15 0 1 0 4.3 0a2.15 2.15 0 1 0 -4.3 0zM254.5 133.38a2.15 2.15 0 1 0 4.3 0a2.15 2.15 0 1 0 -4.3 0zM257 132.24a2.15 2.15 0 1 0 4.3 0a2.15 2.15 0 1 0 -4.3 0zM259.5 130.2a2.15 2.15 0 1 0 4.3 0a2.15 2.15 0 1 0 -4.3 0zM261.99 127.93a2.15 2.15 0 1 0 4.3 0a2.15 2.15 0 1 0 -4.3 0zM264.49 125.43a2.15 2.15 0 1 0 4.3 0a2.15 2.15 0 1 0 -4.3 0zM266.98 122.71a2.15 2.15 0 1 0 4.3 0a2.15 2.15 0 1 0 -4.3 0zM269.48 119.53a2.15 2.15 0 1 0 4.3 0a2.15 2.15 0 1 0 -4.3 0zM272.48 117.03a2.15 2.15 0 1 0 4.3 0a2.15 2.15 0 1 0 -4.3 0zM275.47 113.62a2.15 2.15 0 1 0 4.3 0a2.15 2.15 0 1 0 -4.3 0zM277.97 112.26a2.15 2.15 0 1 0 4.3 0a2.15 2.15 0 1 0 -4.3 0zM280.46 109.08a2.15 2.15 0 1 0 4.3 0a2.15 2.15 0 1 0 -4.3 0zM282.96 105.9a2.15 2.15 0 1 0 4.3 0a2.15 2.15 0 1 0 -4.3 0zM284.7 102.49a2.15 2.15 0 1 0 4.3 0a2.15 2.15 0 1 0 -4.3 0zM286.95 105.9a2.15 2.15 0 1 0 4.3 0a2.15 2.15 0 1 0 -4.3 0zM289.45 110.21a2.15 2.15 0 1 0 4.3 0a2.15 2.15 0 1 0 -4.3 0zM291.94 112.94a2.15 2.15 0 1 0 4.3 0a2.15 2.15 0 1 0 -4.3 0zM294.44 114.3a2.15 2.15 0 1 0 4.3 0a2.15 2.15 0 1 0 -4.3 0zM296.93 117.03a2.15 2.15 0 1 0 4.3 0a2.15 2.15 0 1 0 -4.3 0zM299.43 119.3a2.15 2.15 0 1 0 4.3 0a2.15 2.15 0 1 0 -4.3 0zM301.93 120.66a2.15 2.15 0 1 0 4.3 0a2.15 2.15 0 1 0 -4.3 0zM304.42 122.71a2.15 2.15 0 1 0 4.3 0a2.15 2.15 0 1 0 -4.3 0zM306.92 123.84a2.15 2.15 0 1 0 4.3 0a2.15 2.15 0 1 0 -4.3 0zM309.41 122.71a2.15 2.15 0 1 0 4.3 0a2.15 2.15 0 1 0 -4.3 0zM311.91 125.88a2.15 2.15 0 1 0 4.3 0a2.15 2.15 0 1 0 -4.3 0zM314.41 128.38a2.15 2.15 0 1 0 4.3 0a2.15 2.15 0 1 0 -4.3 0zM316.9 130.2a2.15 2.15 0 1 0 4.3 0a2.15 2.15 0 1 0 -4.3 0zM319.4 133.38a2.15 2.15 0 1 0 4.3 0a2.15 2.15 0 1 0 -4.3 0zM321.89 135.42a2.15 2.15 0 1 0 4.3 0a2.15 2.15 0 1 0 -4.3 0zM324.39 138.6a2.15 2.15 0 1 0 4.3 0a2.15 2.15 0 1 0 -4.3 0zM326.88 139.51a2.15 2.15 0 1 0 4.3 0a2.15 2.15 0 1 0 -4.3 0zM329.38 142.24a2.15 2.15 0 1 0 4.3 0a2.15 2.15 0 1 0 -4.3 0zM331.88 143.83a2.15 2.15 0 1 0 4.3 0a2.15 2.15 0 1 0 -4.3 0zM334.37 146.55a2.15 2.15 0 1 0 4.3 0a2.15 2.15 0 1 0 -4.3 0zM336.87 151.1a2.15 2.15 0 1 0 4.3 0a2.15 2.15 0 1 0 -4.3 0zM339.36 153.59a2.15 2.15 0 1 0 4.3 0a2.15 2.15 0 1 0 -4.3 0zM341.86 153.59a2.15 2.15 0 1 0 4.3 0a2.15 2.15 0 1 0 -4.3 0zM344.36 153.14a2.15 2.15 0 1 0 4.3 0a2.15 2.15 0 1 0 -4.3 0z" fill="#ff0000"/>
<path d="M59.98 117.05V124.27M58.58 117.05h2.8M58.58 124.27h2.8M62.48 115.61V122.98M61.08 115.61h2.8M61.08 122.98h2.8M64.97 106.03V114.4M63.57 106.03h2.8M63.57 114.4h2.8M67.47 122.56V129.21M66.07 122.56h2.8M66.07 129.21h2.8M97.42 122.56V129.21M96.02 122.56h2.8M96.02 129.21h2.8M99.92 117.77V124.91M98.52 117.77h2.8M98.52 124.91h2.8M117.39 124.72V131.14M115.99 124.72h2.8M115.99 131.14h2.8M119.88 117.77V124.91M118.48 117.77h2.8M118.48 124.91h2.8M122.38 110.34V118.26M120.98 110.34h2.8M120.98 118.26h2.8M124.88 106.03V114.4M123.47 106.03h2.8M123.47 114.4h2.8M127.37 109.38V117.4M125.97 109.38h2.8M125.97 117.4h2.8M129.87 114.89V122.34M128.47 114.89h2.8M128.47 122.34h2.8M132.36 119.21V126.2M130.96 119.21h2.8M130.96 126.2h2.8M134.86 123.76V130.28M133.46 123.76h2.8M133.46 130.28h2.8M166.81 123.76V130.28M165.41 123.76h2.8M165.41 130.28h2.8M169.3 119.21V126.2M167.9 119.21h2.8M167.9 126.2h2.8M171.8 111.54V119.33M170.4 111.54h2.8M170.4 119.33h2.8M174.29 100.52V109.46M172.89 100.52h2.8M172.89 109.46h2.8M176.79 93.81V103.45M175.39 93.81h2.8M175.39 103.45h2.8M179.28 95.96V105.38M177.88 95.96h2.8M177.88 105.38h2.8M181.28 108.18V116.33M179.88 108.18h2.8M179.88 116.33h2.8M183.78 121.6V128.35M182.38 121.6h2.8M182.38 128.35h2.8M333.53 123.76V130.28M332.13 123.76h2.8M332.13 130.28h2.8M336.02 118.25V125.34M334.62 118.25h2.8M334.62 125.34h2.8M339.02 111.06V118.91M337.62 111.06h2.8M337.62 118.91h2.8M341.51 90.45V100.45M340.11 90.45h2.8M340.11 100.45h2.8M344.01 81.83V92.72M342.61 81.83h2.8M342.61 92.72h2.8" fill="none" stroke="#5a5a5a" stroke-width="0.65"/>
<path d="M54.99 137.47L57.49 162L59.98 120.66L62.48 119.3L64.97 110.21L67.47 125.88L69.97 152.23L72.46 165.86L74.96 166.99L77.45 168.13L79.95 169.04L82.45 170.4L84.94 166.77L87.44 162.68L89.93 158.36L92.43 149.96L94.92 139.51L97.42 125.88L99.92 121.34L102.41 135.42L104.91 146.78L107.4 151.55L109.9 150.64L112.4 143.15L114.89 136.33L117.39 127.93L119.88 121.34L122.38 114.3L124.88 110.21L127.37 113.39L129.87 118.62L132.36 122.71L134.86 127.02L137.35 130.2L139.85 133.38L142.35 136.33L144.84 138.83L148.83 141.56L151.83 146.78L154.33 137.47L156.82 132.24L159.32 131.11L161.81 132.24L164.31 130.43L166.81 127.02L169.3 122.71L171.8 115.44L174.29 104.99L176.79 98.63L179.28 100.67L181.28 112.26L183.78 124.98L186.27 132.24L188.77 137.47L191.26 142.69L193.76 145.87L196.26 147.92L198.75 149.96L202.25 144.74L204.74 136.33L206.74 134.29L209.23 139.51L211.73 140.65L214.23 139.51L216.72 134.29L219.22 132.24L221.71 139.51L224.21 146.78L226.71 149.96L229.2 147.92L231.7 146.78L234.19 145.87L236.69 144.74L239.18 142.69L241.68 135.42L244.18 135.88L246.67 138.6L249.17 139.51L251.66 140.65L254.16 141.56L256.65 143.83L259.15 144.74L261.65 140.65L264.14 139.51L266.64 142.69L269.13 144.74L271.63 143.83L274.62 144.74L277.62 144.51L280.12 144.51L282.61 144.28L285.11 145.87L287.6 146.78L290.1 147.92L292.1 149.28L294.09 153.14L296.09 145.87L298.59 145.87L301.08 147.46L303.58 149.28L306.07 144.74L308.57 146.78L311.56 143.15L314.06 147.92L316.56 145.87L319.05 146.33L321.55 142.24L324.04 137.47L326.54 139.51L329.03 137.47L331.53 142.24L333.53 127.02L336.02 121.8L339.02 114.98L341.51 95.45L344.01 87.27L346.51 138.15" fill="none" stroke="#0b6cc4" stroke-width="1.8" stroke-linejoin="round" stroke-linecap="round"/>
<path d="M52.99 137.47a2.0 2.0 0 1 0 4 0a2.0 2.0 0 1 0 -4 0zM55.49 162a2.0 2.0 0 1 0 4 0a2.0 2.0 0 1 0 -4 0zM57.98 120.66a2.0 2.0 0 1 0 4 0a2.0 2.0 0 1 0 -4 0zM60.48 119.3a2.0 2.0 0 1 0 4 0a2.0 2.0 0 1 0 -4 0zM62.97 110.21a2.0 2.0 0 1 0 4 0a2.0 2.0 0 1 0 -4 0zM65.47 125.88a2.0 2.0 0 1 0 4 0a2.0 2.0 0 1 0 -4 0zM67.97 152.23a2.0 2.0 0 1 0 4 0a2.0 2.0 0 1 0 -4 0zM70.46 165.86a2.0 2.0 0 1 0 4 0a2.0 2.0 0 1 0 -4 0zM72.96 166.99a2.0 2.0 0 1 0 4 0a2.0 2.0 0 1 0 -4 0zM75.45 168.13a2.0 2.0 0 1 0 4 0a2.0 2.0 0 1 0 -4 0zM77.95 169.04a2.0 2.0 0 1 0 4 0a2.0 2.0 0 1 0 -4 0zM80.45 170.4a2.0 2.0 0 1 0 4 0a2.0 2.0 0 1 0 -4 0zM82.94 166.77a2.0 2.0 0 1 0 4 0a2.0 2.0 0 1 0 -4 0zM85.44 162.68a2.0 2.0 0 1 0 4 0a2.0 2.0 0 1 0 -4 0zM87.93 158.36a2.0 2.0 0 1 0 4 0a2.0 2.0 0 1 0 -4 0zM90.43 149.96a2.0 2.0 0 1 0 4 0a2.0 2.0 0 1 0 -4 0zM92.92 139.51a2.0 2.0 0 1 0 4 0a2.0 2.0 0 1 0 -4 0zM95.42 125.88a2.0 2.0 0 1 0 4 0a2.0 2.0 0 1 0 -4 0zM97.92 121.34a2.0 2.0 0 1 0 4 0a2.0 2.0 0 1 0 -4 0zM100.41 135.42a2.0 2.0 0 1 0 4 0a2.0 2.0 0 1 0 -4 0zM102.91 146.78a2.0 2.0 0 1 0 4 0a2.0 2.0 0 1 0 -4 0zM105.4 151.55a2.0 2.0 0 1 0 4 0a2.0 2.0 0 1 0 -4 0zM107.9 150.64a2.0 2.0 0 1 0 4 0a2.0 2.0 0 1 0 -4 0zM110.4 143.15a2.0 2.0 0 1 0 4 0a2.0 2.0 0 1 0 -4 0zM112.89 136.33a2.0 2.0 0 1 0 4 0a2.0 2.0 0 1 0 -4 0zM115.39 127.93a2.0 2.0 0 1 0 4 0a2.0 2.0 0 1 0 -4 0zM117.88 121.34a2.0 2.0 0 1 0 4 0a2.0 2.0 0 1 0 -4 0zM120.38 114.3a2.0 2.0 0 1 0 4 0a2.0 2.0 0 1 0 -4 0zM122.88 110.21a2.0 2.0 0 1 0 4 0a2.0 2.0 0 1 0 -4 0zM125.37 113.39a2.0 2.0 0 1 0 4 0a2.0 2.0 0 1 0 -4 0zM127.87 118.62a2.0 2.0 0 1 0 4 0a2.0 2.0 0 1 0 -4 0zM130.36 122.71a2.0 2.0 0 1 0 4 0a2.0 2.0 0 1 0 -4 0zM132.86 127.02a2.0 2.0 0 1 0 4 0a2.0 2.0 0 1 0 -4 0zM135.35 130.2a2.0 2.0 0 1 0 4 0a2.0 2.0 0 1 0 -4 0zM137.85 133.38a2.0 2.0 0 1 0 4 0a2.0 2.0 0 1 0 -4 0zM140.35 136.33a2.0 2.0 0 1 0 4 0a2.0 2.0 0 1 0 -4 0zM142.84 138.83a2.0 2.0 0 1 0 4 0a2.0 2.0 0 1 0 -4 0zM146.83 141.56a2.0 2.0 0 1 0 4 0a2.0 2.0 0 1 0 -4 0zM149.83 146.78a2.0 2.0 0 1 0 4 0a2.0 2.0 0 1 0 -4 0zM152.33 137.47a2.0 2.0 0 1 0 4 0a2.0 2.0 0 1 0 -4 0zM154.82 132.24a2.0 2.0 0 1 0 4 0a2.0 2.0 0 1 0 -4 0zM157.32 131.11a2.0 2.0 0 1 0 4 0a2.0 2.0 0 1 0 -4 0zM159.81 132.24a2.0 2.0 0 1 0 4 0a2.0 2.0 0 1 0 -4 0zM162.31 130.43a2.0 2.0 0 1 0 4 0a2.0 2.0 0 1 0 -4 0zM164.81 127.02a2.0 2.0 0 1 0 4 0a2.0 2.0 0 1 0 -4 0zM167.3 122.71a2.0 2.0 0 1 0 4 0a2.0 2.0 0 1 0 -4 0zM169.8 115.44a2.0 2.0 0 1 0 4 0a2.0 2.0 0 1 0 -4 0zM172.29 104.99a2.0 2.0 0 1 0 4 0a2.0 2.0 0 1 0 -4 0zM174.79 98.63a2.0 2.0 0 1 0 4 0a2.0 2.0 0 1 0 -4 0zM177.28 100.67a2.0 2.0 0 1 0 4 0a2.0 2.0 0 1 0 -4 0zM179.28 112.26a2.0 2.0 0 1 0 4 0a2.0 2.0 0 1 0 -4 0zM181.78 124.98a2.0 2.0 0 1 0 4 0a2.0 2.0 0 1 0 -4 0zM184.27 132.24a2.0 2.0 0 1 0 4 0a2.0 2.0 0 1 0 -4 0zM186.77 137.47a2.0 2.0 0 1 0 4 0a2.0 2.0 0 1 0 -4 0zM189.26 142.69a2.0 2.0 0 1 0 4 0a2.0 2.0 0 1 0 -4 0zM191.76 145.87a2.0 2.0 0 1 0 4 0a2.0 2.0 0 1 0 -4 0zM194.26 147.92a2.0 2.0 0 1 0 4 0a2.0 2.0 0 1 0 -4 0zM196.75 149.96a2.0 2.0 0 1 0 4 0a2.0 2.0 0 1 0 -4 0zM200.25 144.74a2.0 2.0 0 1 0 4 0a2.0 2.0 0 1 0 -4 0zM202.74 136.33a2.0 2.0 0 1 0 4 0a2.0 2.0 0 1 0 -4 0zM204.74 134.29a2.0 2.0 0 1 0 4 0a2.0 2.0 0 1 0 -4 0zM207.23 139.51a2.0 2.0 0 1 0 4 0a2.0 2.0 0 1 0 -4 0zM209.73 140.65a2.0 2.0 0 1 0 4 0a2.0 2.0 0 1 0 -4 0zM212.23 139.51a2.0 2.0 0 1 0 4 0a2.0 2.0 0 1 0 -4 0zM214.72 134.29a2.0 2.0 0 1 0 4 0a2.0 2.0 0 1 0 -4 0zM217.22 132.24a2.0 2.0 0 1 0 4 0a2.0 2.0 0 1 0 -4 0zM219.71 139.51a2.0 2.0 0 1 0 4 0a2.0 2.0 0 1 0 -4 0zM222.21 146.78a2.0 2.0 0 1 0 4 0a2.0 2.0 0 1 0 -4 0zM224.71 149.96a2.0 2.0 0 1 0 4 0a2.0 2.0 0 1 0 -4 0zM227.2 147.92a2.0 2.0 0 1 0 4 0a2.0 2.0 0 1 0 -4 0zM229.7 146.78a2.0 2.0 0 1 0 4 0a2.0 2.0 0 1 0 -4 0zM232.19 145.87a2.0 2.0 0 1 0 4 0a2.0 2.0 0 1 0 -4 0zM234.69 144.74a2.0 2.0 0 1 0 4 0a2.0 2.0 0 1 0 -4 0zM237.18 142.69a2.0 2.0 0 1 0 4 0a2.0 2.0 0 1 0 -4 0zM239.68 135.42a2.0 2.0 0 1 0 4 0a2.0 2.0 0 1 0 -4 0zM242.18 135.88a2.0 2.0 0 1 0 4 0a2.0 2.0 0 1 0 -4 0zM244.67 138.6a2.0 2.0 0 1 0 4 0a2.0 2.0 0 1 0 -4 0zM247.17 139.51a2.0 2.0 0 1 0 4 0a2.0 2.0 0 1 0 -4 0zM249.66 140.65a2.0 2.0 0 1 0 4 0a2.0 2.0 0 1 0 -4 0zM252.16 141.56a2.0 2.0 0 1 0 4 0a2.0 2.0 0 1 0 -4 0zM254.65 143.83a2.0 2.0 0 1 0 4 0a2.0 2.0 0 1 0 -4 0zM257.15 144.74a2.0 2.0 0 1 0 4 0a2.0 2.0 0 1 0 -4 0zM259.65 140.65a2.0 2.0 0 1 0 4 0a2.0 2.0 0 1 0 -4 0zM262.14 139.51a2.0 2.0 0 1 0 4 0a2.0 2.0 0 1 0 -4 0zM264.64 142.69a2.0 2.0 0 1 0 4 0a2.0 2.0 0 1 0 -4 0zM267.13 144.74a2.0 2.0 0 1 0 4 0a2.0 2.0 0 1 0 -4 0zM269.63 143.83a2.0 2.0 0 1 0 4 0a2.0 2.0 0 1 0 -4 0zM272.62 144.74a2.0 2.0 0 1 0 4 0a2.0 2.0 0 1 0 -4 0zM275.62 144.51a2.0 2.0 0 1 0 4 0a2.0 2.0 0 1 0 -4 0zM278.12 144.51a2.0 2.0 0 1 0 4 0a2.0 2.0 0 1 0 -4 0zM280.61 144.28a2.0 2.0 0 1 0 4 0a2.0 2.0 0 1 0 -4 0zM283.11 145.87a2.0 2.0 0 1 0 4 0a2.0 2.0 0 1 0 -4 0zM285.6 146.78a2.0 2.0 0 1 0 4 0a2.0 2.0 0 1 0 -4 0zM288.1 147.92a2.0 2.0 0 1 0 4 0a2.0 2.0 0 1 0 -4 0zM290.1 149.28a2.0 2.0 0 1 0 4 0a2.0 2.0 0 1 0 -4 0zM292.09 153.14a2.0 2.0 0 1 0 4 0a2.0 2.0 0 1 0 -4 0zM294.09 145.87a2.0 2.0 0 1 0 4 0a2.0 2.0 0 1 0 -4 0zM296.59 145.87a2.0 2.0 0 1 0 4 0a2.0 2.0 0 1 0 -4 0zM299.08 147.46a2.0 2.0 0 1 0 4 0a2.0 2.0 0 1 0 -4 0zM301.58 149.28a2.0 2.0 0 1 0 4 0a2.0 2.0 0 1 0 -4 0zM304.07 144.74a2.0 2.0 0 1 0 4 0a2.0 2.0 0 1 0 -4 0zM306.57 146.78a2.0 2.0 0 1 0 4 0a2.0 2.0 0 1 0 -4 0zM309.56 143.15a2.0 2.0 0 1 0 4 0a2.0 2.0 0 1 0 -4 0zM312.06 147.92a2.0 2.0 0 1 0 4 0a2.0 2.0 0 1 0 -4 0zM314.56 145.87a2.0 2.0 0 1 0 4 0a2.0 2.0 0 1 0 -4 0zM317.05 146.33a2.0 2.0 0 1 0 4 0a2.0 2.0 0 1 0 -4 0zM319.55 142.24a2.0 2.0 0 1 0 4 0a2.0 2.0 0 1 0 -4 0zM322.04 137.47a2.0 2.0 0 1 0 4 0a2.0 2.0 0 1 0 -4 0zM324.54 139.51a2.0 2.0 0 1 0 4 0a2.0 2.0 0 1 0 -4 0zM327.03 137.47a2.0 2.0 0 1 0 4 0a2.0 2.0 0 1 0 -4 0zM329.53 142.24a2.0 2.0 0 1 0 4 0a2.0 2.0 0 1 0 -4 0zM331.53 127.02a2.0 2.0 0 1 0 4 0a2.0 2.0 0 1 0 -4 0zM334.02 121.8a2.0 2.0 0 1 0 4 0a2.0 2.0 0 1 0 -4 0zM337.02 114.98a2.0 2.0 0 1 0 4 0a2.0 2.0 0 1 0 -4 0zM339.51 95.45a2.0 2.0 0 1 0 4 0a2.0 2.0 0 1 0 -4 0zM342.01 87.27a2.0 2.0 0 1 0 4 0a2.0 2.0 0 1 0 -4 0zM344.51 138.15a2.0 2.0 0 1 0 4 0a2.0 2.0 0 1 0 -4 0z" fill="#4a97e6" fill-opacity="0.75" stroke="#0b6cc4" stroke-width="1.15"/>
</g>
<rect x="50" y="4.6" width="299.5" height="181.7" fill="none" stroke="#000" stroke-width="1.45"/>
<path d="M50 181.76h2.3M50 177.22h2.3M50 172.67h2.3M50 168.13h2.3M50 159.05h2.3M50 154.5h2.3M50 149.96h2.3M50 145.42h2.3M50 136.33h2.3M50 131.79h2.3M50 127.25h2.3M50 122.71h2.3M50 113.62h2.3M50 109.08h2.3M50 104.53h2.3M50 99.99h2.3M50 90.91h2.3M50 86.36h2.3M50 81.82h2.3M50 77.28h2.3M50 68.19h2.3M50 63.65h2.3M50 59.11h2.3M50 54.57h2.3M50 45.48h2.3M50 40.94h2.3M50 36.4h2.3M50 31.86h2.3M50 22.77h2.3M50 18.23h2.3M50 13.69h2.3M50 9.14h2.3" stroke="#000" stroke-width="0.7" fill="none"/>
<path d="M50 163.59h2.2M52.7 163.59h1.2M50 140.88h2.2M52.7 140.88h1.2M50 118.16h2.2M52.7 118.16h1.2M50 95.45h2.2M52.7 95.45h1.2M50 72.74h2.2M52.7 72.74h1.2M50 50.02h2.2M52.7 50.02h1.2M50 27.31h2.2M52.7 27.31h1.2" stroke="#000" stroke-width="0.9" fill="none"/>
<path d="M59.98 186.3v-1.9M69.97 186.3v-1.9M79.95 186.3v-1.9M89.93 186.3v-1.9M109.9 186.3v-1.9M119.88 186.3v-1.9M129.87 186.3v-1.9M139.85 186.3v-1.9M159.82 186.3v-1.9M169.8 186.3v-1.9M179.78 186.3v-1.9M189.77 186.3v-1.9M209.73 186.3v-1.9M219.72 186.3v-1.9M229.7 186.3v-1.9M239.68 186.3v-1.9M259.65 186.3v-1.9M269.63 186.3v-1.9M279.62 186.3v-1.9M289.6 186.3v-1.9M309.57 186.3v-1.9M319.55 186.3v-1.9M329.53 186.3v-1.9M339.52 186.3v-1.9" stroke="#000" stroke-width="0.6" fill="none"/>
<path d="M99.92 186.3v-3.4M149.83 186.3v-3.4M199.75 186.3v-3.4M249.67 186.3v-3.4M299.58 186.3v-3.4" stroke="#000" stroke-width="0.7" fill="none"/>
<text class="tk" x="45.6" y="190.8" text-anchor="end">0</text>
<text class="tk" x="45.6" y="145.38" text-anchor="end">20</text>
<text class="tk" x="45.6" y="99.95" text-anchor="end">40</text>
<text class="tk" x="45.6" y="54.52" text-anchor="end">60</text>
<text class="tk" x="45.6" y="9.1" text-anchor="end">80</text>
<text class="tk" x="50" y="200.9" text-anchor="middle">2.0</text>
<text class="tk" x="99.92" y="200.9" text-anchor="middle">3.0</text>
<text class="tk" x="149.83" y="200.9" text-anchor="middle">4.0</text>
<text class="tk" x="199.75" y="200.9" text-anchor="middle">5.0</text>
<text class="tk" x="249.67" y="200.9" text-anchor="middle">6.0</text>
<text class="tk" x="299.58" y="200.9" text-anchor="middle">7.0</text>
<text class="tk" x="349.5" y="200.9" text-anchor="middle">8.0</text>
<rect x="303.3" y="7.6" width="42.4" height="64.8" fill="#fff" stroke="#444" stroke-width="0.6"/>
<path d="M308.8 15.9H324.3" stroke="#00a550" stroke-width="1.5" fill="none"/>
<path d="M316.5 13.6l2 3.5h-4z" fill="#00a550"/>
<text class="lg" transform="translate(328.4 18.3) scale(0.87 1)">p</text>
<text class="lgs" x="335" y="22.8">0</text>
<path d="M308.8 31.65H324.3" stroke="#000000" stroke-width="1.5" fill="none"/>
<circle cx="316.5" cy="31.65" r="1.75" fill="#000000"/>
<text class="lg" transform="translate(328.4 34.05) scale(0.87 1)">p</text>
<text class="lgs" x="335" y="38.55">1</text>
<path d="M308.8 47.4H324.3" stroke="#ff0000" stroke-width="1.5" fill="none"/>
<circle cx="316.5" cy="47.4" r="1.75" fill="#ff0000"/>
<text class="lg" transform="translate(328.4 49.8) scale(0.87 1)">p</text>
<text class="lgs" x="335" y="54.3">2</text>
<path d="M308.8 63.15H324.3" stroke="#0b6cc4" stroke-width="1.5" fill="none"/>
<circle cx="316.5" cy="63.15" r="1.5" fill="#3f8fe0" stroke="#0b6cc4" stroke-width="0.9"/>
<text class="lg" transform="translate(328.4 65.55) scale(0.87 1)">p</text>
<text class="lgs" x="335" y="70.05">3</text>
</g>
<g>
<clipPath id="clipb"><rect x="50" y="215" width="299.5" height="181.7"/></clipPath>
<g clip-path="url(#clipb)">
<path d="M54.99 377.44L57.49 368.35L59.98 366.36L62.48 369.44L64.97 369.08L67.47 368.35L69.97 368.35L72.46 370.54L74.96 372.72L77.45 374.71L79.95 375.44L82.45 374.17L84.94 373.26L87.44 371.63L89.93 370.54L92.43 372.72L94.92 375.44L97.42 375.8L99.92 373.62L102.41 369.81L104.91 369.44L107.4 372.72L109.9 376.89L112.4 379.62L114.89 381.62L117.39 382.53L119.88 382.53L122.38 381.62L124.88 381.26L127.37 380.35L129.87 379.62L132.36 378.35L134.86 377.44L137.35 375.8L139.85 374.17L142.35 373.26L144.84 371.99L147.34 369.44L149.83 365.63L152.33 364.18L154.82 366.36L157.32 365.27L159.82 364.9L162.31 364.18L164.81 364.18L167.3 363.27L169.8 365.27L172.3 367.45L174.79 368.54L176.79 362.18L178.78 352.73L180.28 329.65L181.78 321.29L183.78 327.47L185.77 345.46L187.77 361.09L189.77 367.45L192.26 372.72L194.76 374.9L198.25 375.8L199.75 379.08L202.25 381.07L204.74 382.16L207.24 383.07L209.73 383.62L212.23 383.98L214.72 384.34L216.72 384.71L219.72 383.07L223.21 381.07L227.2 376.89L229.7 375.26L232.2 373.81L234.69 372.17L237.19 370.72L239.68 370.17L242.18 369.44L244.68 367.81L247.17 366.54L249.67 365.27L252.16 364.36L254.66 363.63L257.15 363.45L260.65 363.27L264.64 360.72L267.14 356.91L269.63 352.73L272.13 352.18L274.62 353.09L278.12 354.73L280.62 358L283.11 359.45L285.61 360L288.1 360.72L290.6 360.72L293.09 360L295.59 360.72L298.09 358.91L300.58 358.54L303.08 359.45L305.57 361.09L308.07 362.18L310.56 364.9L313.06 362.18L315.56 361.09L318.05 358.91L320.55 357.27L323.04 352.73L325.54 349.46L328.04 348L330.53 348.55L333.03 349.46L335.52 348.91L338.02 352.73L340.52 356.91L343.01 361.09" fill="none" stroke="#00a550" stroke-width="1.6" stroke-linejoin="round" stroke-linecap="round"/>
<path d="M54.99 375.04l2.2 3.8h-4.4zM57.49 365.95l2.2 3.8h-4.4zM59.98 363.96l2.2 3.8h-4.4zM62.48 367.05l2.2 3.8h-4.4zM64.97 366.68l2.2 3.8h-4.4zM67.47 365.95l2.2 3.8h-4.4zM69.97 365.95l2.2 3.8h-4.4zM72.46 368.14l2.2 3.8h-4.4zM74.96 370.32l2.2 3.8h-4.4zM77.45 372.31l2.2 3.8h-4.4zM79.95 373.04l2.2 3.8h-4.4zM82.45 371.77l2.2 3.8h-4.4zM84.94 370.86l2.2 3.8h-4.4zM87.44 369.23l2.2 3.8h-4.4zM89.93 368.14l2.2 3.8h-4.4zM92.43 370.32l2.2 3.8h-4.4zM94.92 373.04l2.2 3.8h-4.4zM97.42 373.4l2.2 3.8h-4.4zM99.92 371.22l2.2 3.8h-4.4zM102.41 367.41l2.2 3.8h-4.4zM104.91 367.05l2.2 3.8h-4.4zM107.4 370.32l2.2 3.8h-4.4zM109.9 374.49l2.2 3.8h-4.4zM112.4 377.22l2.2 3.8h-4.4zM114.89 379.22l2.2 3.8h-4.4zM117.39 380.13l2.2 3.8h-4.4zM119.88 380.13l2.2 3.8h-4.4zM122.38 379.22l2.2 3.8h-4.4zM124.88 378.86l2.2 3.8h-4.4zM127.37 377.95l2.2 3.8h-4.4zM129.87 377.22l2.2 3.8h-4.4zM132.36 375.95l2.2 3.8h-4.4zM134.86 375.04l2.2 3.8h-4.4zM137.35 373.4l2.2 3.8h-4.4zM139.85 371.77l2.2 3.8h-4.4zM142.35 370.86l2.2 3.8h-4.4zM144.84 369.59l2.2 3.8h-4.4zM147.34 367.05l2.2 3.8h-4.4zM149.83 363.23l2.2 3.8h-4.4zM152.33 361.78l2.2 3.8h-4.4zM154.82 363.96l2.2 3.8h-4.4zM157.32 362.87l2.2 3.8h-4.4zM159.82 362.5l2.2 3.8h-4.4zM162.31 361.78l2.2 3.8h-4.4zM164.81 361.78l2.2 3.8h-4.4zM167.3 360.87l2.2 3.8h-4.4zM169.8 362.87l2.2 3.8h-4.4zM172.3 365.05l2.2 3.8h-4.4zM174.79 366.14l2.2 3.8h-4.4zM176.79 359.78l2.2 3.8h-4.4zM178.78 350.33l2.2 3.8h-4.4zM180.28 327.25l2.2 3.8h-4.4zM181.78 318.89l2.2 3.8h-4.4zM183.78 325.07l2.2 3.8h-4.4zM185.77 343.06l2.2 3.8h-4.4zM187.77 358.69l2.2 3.8h-4.4zM189.77 365.05l2.2 3.8h-4.4zM192.26 370.32l2.2 3.8h-4.4zM194.76 372.5l2.2 3.8h-4.4zM198.25 373.4l2.2 3.8h-4.4zM199.75 376.68l2.2 3.8h-4.4zM202.25 378.67l2.2 3.8h-4.4zM204.74 379.76l2.2 3.8h-4.4zM207.24 380.67l2.2 3.8h-4.4zM209.73 381.22l2.2 3.8h-4.4zM212.23 381.58l2.2 3.8h-4.4zM214.72 381.94l2.2 3.8h-4.4zM216.72 382.31l2.2 3.8h-4.4zM219.72 380.67l2.2 3.8h-4.4zM223.21 378.67l2.2 3.8h-4.4zM227.2 374.49l2.2 3.8h-4.4zM229.7 372.86l2.2 3.8h-4.4zM232.2 371.41l2.2 3.8h-4.4zM234.69 369.77l2.2 3.8h-4.4zM237.19 368.32l2.2 3.8h-4.4zM239.68 367.77l2.2 3.8h-4.4zM242.18 367.05l2.2 3.8h-4.4zM244.68 365.41l2.2 3.8h-4.4zM247.17 364.14l2.2 3.8h-4.4zM249.67 362.87l2.2 3.8h-4.4zM252.16 361.96l2.2 3.8h-4.4zM254.66 361.23l2.2 3.8h-4.4zM257.15 361.05l2.2 3.8h-4.4zM260.65 360.87l2.2 3.8h-4.4zM264.64 358.32l2.2 3.8h-4.4zM267.14 354.51l2.2 3.8h-4.4zM269.63 350.33l2.2 3.8h-4.4zM272.13 349.78l2.2 3.8h-4.4zM274.62 350.69l2.2 3.8h-4.4zM278.12 352.33l2.2 3.8h-4.4zM280.62 355.6l2.2 3.8h-4.4zM283.11 357.05l2.2 3.8h-4.4zM285.61 357.6l2.2 3.8h-4.4zM288.1 358.32l2.2 3.8h-4.4zM290.6 358.32l2.2 3.8h-4.4zM293.09 357.6l2.2 3.8h-4.4zM295.59 358.32l2.2 3.8h-4.4zM298.09 356.51l2.2 3.8h-4.4zM300.58 356.14l2.2 3.8h-4.4zM303.08 357.05l2.2 3.8h-4.4zM305.57 358.69l2.2 3.8h-4.4zM308.07 359.78l2.2 3.8h-4.4zM310.56 362.5l2.2 3.8h-4.4zM313.06 359.78l2.2 3.8h-4.4zM315.56 358.69l2.2 3.8h-4.4zM318.05 356.51l2.2 3.8h-4.4zM320.55 354.87l2.2 3.8h-4.4zM323.04 350.33l2.2 3.8h-4.4zM325.54 347.06l2.2 3.8h-4.4zM328.04 345.6l2.2 3.8h-4.4zM330.53 346.15l2.2 3.8h-4.4zM333.03 347.06l2.2 3.8h-4.4zM335.52 346.51l2.2 3.8h-4.4zM338.02 350.33l2.2 3.8h-4.4zM340.52 354.51l2.2 3.8h-4.4zM343.01 358.69l2.2 3.8h-4.4z" fill="#00a550"/>
<path d="M54.99 392.16L57.49 389.43L59.98 388.34L62.48 387.98L64.97 387.98L67.47 388.34L69.97 386.71L72.46 384.71L74.96 381.07L77.45 380.35L79.95 377.44L82.45 376.17L84.94 375.8L87.44 375.44L89.93 374.17L92.43 369.81L94.92 364.18L97.42 358L99.92 358.54L102.41 364.18L104.91 365.63L107.4 366.9L109.9 368.35L112.4 369.08L114.89 370.54L117.39 371.26L119.88 372.72L122.38 373.26L124.88 373.26L127.37 371.99L129.87 373.26L132.36 373.62L134.86 374.17L137.35 372.72L139.85 370.54L142.35 374.71L144.84 379.62L147.34 383.8L149.83 385.98L152.33 387.43L154.82 387.98L157.32 388.89L159.82 389.43L162.31 390.16L164.81 390.52L167.3 390.89L169.8 391.61L172.3 391.79L174.79 392.16L177.29 392.16L179.78 392.16L182.28 390.89L184.78 386.71L187.27 382.16L189.77 377.98L192.26 377.44L194.76 378.35L197.25 377.98L199.75 380.71L202.25 382.16L204.74 383.25L207.24 383.8L209.73 384.16L212.23 383.25L214.72 383.8L217.22 383.25L219.72 380.35L222.21 377.98L224.71 376.89L227.2 375.8L229.7 374.71L232.2 373.26L234.69 371.63L237.19 369.81L239.68 370.54L242.18 370.54L244.68 369.44L247.17 368.54L249.67 366.9L252.16 365.27L254.66 364.18L257.15 365.63L259.65 367.45L262.15 369.08L264.64 370.54L267.14 371.63L269.63 374.17L272.13 376.17L274.62 376.89L277.62 377.44L280.12 381.07L282.61 384.71L285.11 384.16L287.6 386.34L290.1 387.98L292.6 386.34L295.09 387.43L297.59 386.71L300.08 386.34L302.58 386.34L305.07 385.25L307.57 384.16L310.07 382.53L312.56 381.07L315.06 380.35L317.05 376.89L319.55 377.98L321.55 378.35" fill="none" stroke="#000000" stroke-width="1.6" stroke-linejoin="round" stroke-linecap="round"/>
<path d="M52.89 392.16a2.1 2.1 0 1 0 4.2 0a2.1 2.1 0 1 0 -4.2 0zM55.39 389.43a2.1 2.1 0 1 0 4.2 0a2.1 2.1 0 1 0 -4.2 0zM57.88 388.34a2.1 2.1 0 1 0 4.2 0a2.1 2.1 0 1 0 -4.2 0zM60.38 387.98a2.1 2.1 0 1 0 4.2 0a2.1 2.1 0 1 0 -4.2 0zM62.87 387.98a2.1 2.1 0 1 0 4.2 0a2.1 2.1 0 1 0 -4.2 0zM65.37 388.34a2.1 2.1 0 1 0 4.2 0a2.1 2.1 0 1 0 -4.2 0zM67.87 386.71a2.1 2.1 0 1 0 4.2 0a2.1 2.1 0 1 0 -4.2 0zM70.36 384.71a2.1 2.1 0 1 0 4.2 0a2.1 2.1 0 1 0 -4.2 0zM72.86 381.07a2.1 2.1 0 1 0 4.2 0a2.1 2.1 0 1 0 -4.2 0zM75.35 380.35a2.1 2.1 0 1 0 4.2 0a2.1 2.1 0 1 0 -4.2 0zM77.85 377.44a2.1 2.1 0 1 0 4.2 0a2.1 2.1 0 1 0 -4.2 0zM80.35 376.17a2.1 2.1 0 1 0 4.2 0a2.1 2.1 0 1 0 -4.2 0zM82.84 375.8a2.1 2.1 0 1 0 4.2 0a2.1 2.1 0 1 0 -4.2 0zM85.34 375.44a2.1 2.1 0 1 0 4.2 0a2.1 2.1 0 1 0 -4.2 0zM87.83 374.17a2.1 2.1 0 1 0 4.2 0a2.1 2.1 0 1 0 -4.2 0zM90.33 369.81a2.1 2.1 0 1 0 4.2 0a2.1 2.1 0 1 0 -4.2 0zM92.82 364.18a2.1 2.1 0 1 0 4.2 0a2.1 2.1 0 1 0 -4.2 0zM95.32 358a2.1 2.1 0 1 0 4.2 0a2.1 2.1 0 1 0 -4.2 0zM97.82 358.54a2.1 2.1 0 1 0 4.2 0a2.1 2.1 0 1 0 -4.2 0zM100.31 364.18a2.1 2.1 0 1 0 4.2 0a2.1 2.1 0 1 0 -4.2 0zM102.81 365.63a2.1 2.1 0 1 0 4.2 0a2.1 2.1 0 1 0 -4.2 0zM105.3 366.9a2.1 2.1 0 1 0 4.2 0a2.1 2.1 0 1 0 -4.2 0zM107.8 368.35a2.1 2.1 0 1 0 4.2 0a2.1 2.1 0 1 0 -4.2 0zM110.3 369.08a2.1 2.1 0 1 0 4.2 0a2.1 2.1 0 1 0 -4.2 0zM112.79 370.54a2.1 2.1 0 1 0 4.2 0a2.1 2.1 0 1 0 -4.2 0zM115.29 371.26a2.1 2.1 0 1 0 4.2 0a2.1 2.1 0 1 0 -4.2 0zM117.78 372.72a2.1 2.1 0 1 0 4.2 0a2.1 2.1 0 1 0 -4.2 0zM120.28 373.26a2.1 2.1 0 1 0 4.2 0a2.1 2.1 0 1 0 -4.2 0zM122.78 373.26a2.1 2.1 0 1 0 4.2 0a2.1 2.1 0 1 0 -4.2 0zM125.27 371.99a2.1 2.1 0 1 0 4.2 0a2.1 2.1 0 1 0 -4.2 0zM127.77 373.26a2.1 2.1 0 1 0 4.2 0a2.1 2.1 0 1 0 -4.2 0zM130.26 373.62a2.1 2.1 0 1 0 4.2 0a2.1 2.1 0 1 0 -4.2 0zM132.76 374.17a2.1 2.1 0 1 0 4.2 0a2.1 2.1 0 1 0 -4.2 0zM135.25 372.72a2.1 2.1 0 1 0 4.2 0a2.1 2.1 0 1 0 -4.2 0zM137.75 370.54a2.1 2.1 0 1 0 4.2 0a2.1 2.1 0 1 0 -4.2 0zM140.25 374.71a2.1 2.1 0 1 0 4.2 0a2.1 2.1 0 1 0 -4.2 0zM142.74 379.62a2.1 2.1 0 1 0 4.2 0a2.1 2.1 0 1 0 -4.2 0zM145.24 383.8a2.1 2.1 0 1 0 4.2 0a2.1 2.1 0 1 0 -4.2 0zM147.73 385.98a2.1 2.1 0 1 0 4.2 0a2.1 2.1 0 1 0 -4.2 0zM150.23 387.43a2.1 2.1 0 1 0 4.2 0a2.1 2.1 0 1 0 -4.2 0zM152.72 387.98a2.1 2.1 0 1 0 4.2 0a2.1 2.1 0 1 0 -4.2 0zM155.22 388.89a2.1 2.1 0 1 0 4.2 0a2.1 2.1 0 1 0 -4.2 0zM157.72 389.43a2.1 2.1 0 1 0 4.2 0a2.1 2.1 0 1 0 -4.2 0zM160.21 390.16a2.1 2.1 0 1 0 4.2 0a2.1 2.1 0 1 0 -4.2 0zM162.71 390.52a2.1 2.1 0 1 0 4.2 0a2.1 2.1 0 1 0 -4.2 0zM165.2 390.89a2.1 2.1 0 1 0 4.2 0a2.1 2.1 0 1 0 -4.2 0zM167.7 391.61a2.1 2.1 0 1 0 4.2 0a2.1 2.1 0 1 0 -4.2 0zM170.2 391.79a2.1 2.1 0 1 0 4.2 0a2.1 2.1 0 1 0 -4.2 0zM172.69 392.16a2.1 2.1 0 1 0 4.2 0a2.1 2.1 0 1 0 -4.2 0zM175.19 392.16a2.1 2.1 0 1 0 4.2 0a2.1 2.1 0 1 0 -4.2 0zM177.68 392.16a2.1 2.1 0 1 0 4.2 0a2.1 2.1 0 1 0 -4.2 0zM180.18 390.89a2.1 2.1 0 1 0 4.2 0a2.1 2.1 0 1 0 -4.2 0zM182.68 386.71a2.1 2.1 0 1 0 4.2 0a2.1 2.1 0 1 0 -4.2 0zM185.17 382.16a2.1 2.1 0 1 0 4.2 0a2.1 2.1 0 1 0 -4.2 0zM187.67 377.98a2.1 2.1 0 1 0 4.2 0a2.1 2.1 0 1 0 -4.2 0zM190.16 377.44a2.1 2.1 0 1 0 4.2 0a2.1 2.1 0 1 0 -4.2 0zM192.66 378.35a2.1 2.1 0 1 0 4.2 0a2.1 2.1 0 1 0 -4.2 0zM195.15 377.98a2.1 2.1 0 1 0 4.2 0a2.1 2.1 0 1 0 -4.2 0zM197.65 380.71a2.1 2.1 0 1 0 4.2 0a2.1 2.1 0 1 0 -4.2 0zM200.15 382.16a2.1 2.1 0 1 0 4.2 0a2.1 2.1 0 1 0 -4.2 0zM202.64 383.25a2.1 2.1 0 1 0 4.2 0a2.1 2.1 0 1 0 -4.2 0zM205.14 383.8a2.1 2.1 0 1 0 4.2 0a2.1 2.1 0 1 0 -4.2 0zM207.63 384.16a2.1 2.1 0 1 0 4.2 0a2.1 2.1 0 1 0 -4.2 0zM210.13 383.25a2.1 2.1 0 1 0 4.2 0a2.1 2.1 0 1 0 -4.2 0zM212.62 383.8a2.1 2.1 0 1 0 4.2 0a2.1 2.1 0 1 0 -4.2 0zM215.12 383.25a2.1 2.1 0 1 0 4.2 0a2.1 2.1 0 1 0 -4.2 0zM217.62 380.35a2.1 2.1 0 1 0 4.2 0a2.1 2.1 0 1 0 -4.2 0zM220.11 377.98a2.1 2.1 0 1 0 4.2 0a2.1 2.1 0 1 0 -4.2 0zM222.61 376.89a2.1 2.1 0 1 0 4.2 0a2.1 2.1 0 1 0 -4.2 0zM225.1 375.8a2.1 2.1 0 1 0 4.2 0a2.1 2.1 0 1 0 -4.2 0zM227.6 374.71a2.1 2.1 0 1 0 4.2 0a2.1 2.1 0 1 0 -4.2 0zM230.1 373.26a2.1 2.1 0 1 0 4.2 0a2.1 2.1 0 1 0 -4.2 0zM232.59 371.63a2.1 2.1 0 1 0 4.2 0a2.1 2.1 0 1 0 -4.2 0zM235.09 369.81a2.1 2.1 0 1 0 4.2 0a2.1 2.1 0 1 0 -4.2 0zM237.58 370.54a2.1 2.1 0 1 0 4.2 0a2.1 2.1 0 1 0 -4.2 0zM240.08 370.54a2.1 2.1 0 1 0 4.2 0a2.1 2.1 0 1 0 -4.2 0zM242.58 369.44a2.1 2.1 0 1 0 4.2 0a2.1 2.1 0 1 0 -4.2 0zM245.07 368.54a2.1 2.1 0 1 0 4.2 0a2.1 2.1 0 1 0 -4.2 0zM247.57 366.9a2.1 2.1 0 1 0 4.2 0a2.1 2.1 0 1 0 -4.2 0zM250.06 365.27a2.1 2.1 0 1 0 4.2 0a2.1 2.1 0 1 0 -4.2 0zM252.56 364.18a2.1 2.1 0 1 0 4.2 0a2.1 2.1 0 1 0 -4.2 0zM255.05 365.63a2.1 2.1 0 1 0 4.2 0a2.1 2.1 0 1 0 -4.2 0zM257.55 367.45a2.1 2.1 0 1 0 4.2 0a2.1 2.1 0 1 0 -4.2 0zM260.05 369.08a2.1 2.1 0 1 0 4.2 0a2.1 2.1 0 1 0 -4.2 0zM262.54 370.54a2.1 2.1 0 1 0 4.2 0a2.1 2.1 0 1 0 -4.2 0zM265.04 371.63a2.1 2.1 0 1 0 4.2 0a2.1 2.1 0 1 0 -4.2 0zM267.53 374.17a2.1 2.1 0 1 0 4.2 0a2.1 2.1 0 1 0 -4.2 0zM270.03 376.17a2.1 2.1 0 1 0 4.2 0a2.1 2.1 0 1 0 -4.2 0zM272.52 376.89a2.1 2.1 0 1 0 4.2 0a2.1 2.1 0 1 0 -4.2 0zM275.52 377.44a2.1 2.1 0 1 0 4.2 0a2.1 2.1 0 1 0 -4.2 0zM278.02 381.07a2.1 2.1 0 1 0 4.2 0a2.1 2.1 0 1 0 -4.2 0zM280.51 384.71a2.1 2.1 0 1 0 4.2 0a2.1 2.1 0 1 0 -4.2 0zM283.01 384.16a2.1 2.1 0 1 0 4.2 0a2.1 2.1 0 1 0 -4.2 0zM285.5 386.34a2.1 2.1 0 1 0 4.2 0a2.1 2.1 0 1 0 -4.2 0zM288 387.98a2.1 2.1 0 1 0 4.2 0a2.1 2.1 0 1 0 -4.2 0zM290.5 386.34a2.1 2.1 0 1 0 4.2 0a2.1 2.1 0 1 0 -4.2 0zM292.99 387.43a2.1 2.1 0 1 0 4.2 0a2.1 2.1 0 1 0 -4.2 0zM295.49 386.71a2.1 2.1 0 1 0 4.2 0a2.1 2.1 0 1 0 -4.2 0zM297.98 386.34a2.1 2.1 0 1 0 4.2 0a2.1 2.1 0 1 0 -4.2 0zM300.48 386.34a2.1 2.1 0 1 0 4.2 0a2.1 2.1 0 1 0 -4.2 0zM302.97 385.25a2.1 2.1 0 1 0 4.2 0a2.1 2.1 0 1 0 -4.2 0zM305.47 384.16a2.1 2.1 0 1 0 4.2 0a2.1 2.1 0 1 0 -4.2 0zM307.97 382.53a2.1 2.1 0 1 0 4.2 0a2.1 2.1 0 1 0 -4.2 0zM310.46 381.07a2.1 2.1 0 1 0 4.2 0a2.1 2.1 0 1 0 -4.2 0zM312.96 380.35a2.1 2.1 0 1 0 4.2 0a2.1 2.1 0 1 0 -4.2 0zM314.95 376.89a2.1 2.1 0 1 0 4.2 0a2.1 2.1 0 1 0 -4.2 0zM317.45 377.98a2.1 2.1 0 1 0 4.2 0a2.1 2.1 0 1 0 -4.2 0zM319.45 378.35a2.1 2.1 0 1 0 4.2 0a2.1 2.1 0 1 0 -4.2 0z" fill="#000000"/>
<path d="M54.99 316.39L57.49 299.67L59.98 315.12L62.48 301.31L64.97 296.76L67.47 294.04L69.97 300.94L72.46 307.3L74.96 334.01L77.45 339.1L79.95 346.37L82.45 352.73L84.94 358.91L87.44 356.91L89.93 347.46L92.43 336.92L94.92 333.83L97.42 343.28L99.92 358L102.41 354.73L104.91 347.46L107.4 344.73L109.9 344.73L112.4 352.73L114.89 355.82L117.39 358.91L119.88 356.54L122.38 353.82L124.88 352.73L127.37 357.27L129.87 342.19L132.36 337.83L134.86 335.47L137.35 331.29L139.85 329.83L142.35 319.3L144.84 304.58L147.34 290.77L149.83 289.86L152.33 297.49L154.82 301.67L157.32 308.76L159.82 308.76L162.31 307.3L164.81 307.67L167.3 307.3L169.8 307.3L172.3 308.76L174.79 312.21L177.29 317.12L179.78 326.56L181.78 339.46L184.28 332.2L186.77 323.47L189.27 316.03L191.76 302.4L194.26 294.95L196.76 290.41L199.25 285.32L202.25 288.41L204.74 290.41L207.24 290.41L209.23 285.68L211.73 288.41L214.23 289.86L216.72 291.86L219.22 294.95L221.71 292.95L224.21 291.86L226.71 293.31L229.2 298.76L231.7 301.31L234.19 304.58L236.69 310.76L239.18 316.03L241.68 322.02L244.18 326.2L246.67 329.11L249.17 330.74L251.66 332.38L254.16 332.92L256.65 331.83L259.15 330.74L261.65 331.29L264.14 331.29L266.64 329.11L269.13 327.65L271.63 326.56L274.62 324.75L277.62 321.29L280.12 318.21L282.61 312.94L285.11 307.3L287.6 306.03L289.6 303.85L292.1 308.76L294.59 304.58L296.59 310.21L299.08 312.21L301.58 313.48L304.08 311.85L306.57 316.39L309.07 313.48L311.56 317.84L314.06 317.12L316.56 323.47L319.05 323.47L321.55 329.83L324.04 329.11L326.54 329.11L329.03 329.11L331.53 329.83L334.53 338.56L337.02 344.19L339.52 351.64L342.01 358L344.51 360L346.51 322.38" fill="none" stroke="#ff0000" stroke-width="1.5" stroke-linejoin="round" stroke-linecap="round"/>
<path d="M52.84 316.39a2.15 2.15 0 1 0 4.3 0a2.15 2.15 0 1 0 -4.3 0zM55.34 299.67a2.15 2.15 0 1 0 4.3 0a2.15 2.15 0 1 0 -4.3 0zM57.83 315.12a2.15 2.15 0 1 0 4.3 0a2.15 2.15 0 1 0 -4.3 0zM60.33 301.31a2.15 2.15 0 1 0 4.3 0a2.15 2.15 0 1 0 -4.3 0zM62.82 296.76a2.15 2.15 0 1 0 4.3 0a2.15 2.15 0 1 0 -4.3 0zM65.32 294.04a2.15 2.15 0 1 0 4.3 0a2.15 2.15 0 1 0 -4.3 0zM67.82 300.94a2.15 2.15 0 1 0 4.3 0a2.15 2.15 0 1 0 -4.3 0zM70.31 307.3a2.15 2.15 0 1 0 4.3 0a2.15 2.15 0 1 0 -4.3 0zM72.81 334.01a2.15 2.15 0 1 0 4.3 0a2.15 2.15 0 1 0 -4.3 0zM75.3 339.1a2.15 2.15 0 1 0 4.3 0a2.15 2.15 0 1 0 -4.3 0zM77.8 346.37a2.15 2.15 0 1 0 4.3 0a2.15 2.15 0 1 0 -4.3 0zM80.3 352.73a2.15 2.15 0 1 0 4.3 0a2.15 2.15 0 1 0 -4.3 0zM82.79 358.91a2.15 2.15 0 1 0 4.3 0a2.15 2.15 0 1 0 -4.3 0zM85.29 356.91a2.15 2.15 0 1 0 4.3 0a2.15 2.15 0 1 0 -4.3 0zM87.78 347.46a2.15 2.15 0 1 0 4.3 0a2.15 2.15 0 1 0 -4.3 0zM90.28 336.92a2.15 2.15 0 1 0 4.3 0a2.15 2.15 0 1 0 -4.3 0zM92.77 333.83a2.15 2.15 0 1 0 4.3 0a2.15 2.15 0 1 0 -4.3 0zM95.27 343.28a2.15 2.15 0 1 0 4.3 0a2.15 2.15 0 1 0 -4.3 0zM97.77 358a2.15 2.15 0 1 0 4.3 0a2.15 2.15 0 1 0 -4.3 0zM100.26 354.73a2.15 2.15 0 1 0 4.3 0a2.15 2.15 0 1 0 -4.3 0zM102.76 347.46a2.15 2.15 0 1 0 4.3 0a2.15 2.15 0 1 0 -4.3 0zM105.25 344.73a2.15 2.15 0 1 0 4.3 0a2.15 2.15 0 1 0 -4.3 0zM107.75 344.73a2.15 2.15 0 1 0 4.3 0a2.15 2.15 0 1 0 -4.3 0zM110.25 352.73a2.15 2.15 0 1 0 4.3 0a2.15 2.15 0 1 0 -4.3 0zM112.74 355.82a2.15 2.15 0 1 0 4.3 0a2.15 2.15 0 1 0 -4.3 0zM115.24 358.91a2.15 2.15 0 1 0 4.3 0a2.15 2.15 0 1 0 -4.3 0zM117.73 356.54a2.15 2.15 0 1 0 4.3 0a2.15 2.15 0 1 0 -4.3 0zM120.23 353.82a2.15 2.15 0 1 0 4.3 0a2.15 2.15 0 1 0 -4.3 0zM122.72 352.73a2.15 2.15 0 1 0 4.3 0a2.15 2.15 0 1 0 -4.3 0zM125.22 357.27a2.15 2.15 0 1 0 4.3 0a2.15 2.15 0 1 0 -4.3 0zM127.72 342.19a2.15 2.15 0 1 0 4.3 0a2.15 2.15 0 1 0 -4.3 0zM130.21 337.83a2.15 2.15 0 1 0 4.3 0a2.15 2.15 0 1 0 -4.3 0zM132.71 335.47a2.15 2.15 0 1 0 4.3 0a2.15 2.15 0 1 0 -4.3 0zM135.2 331.29a2.15 2.15 0 1 0 4.3 0a2.15 2.15 0 1 0 -4.3 0zM137.7 329.83a2.15 2.15 0 1 0 4.3 0a2.15 2.15 0 1 0 -4.3 0zM140.2 319.3a2.15 2.15 0 1 0 4.3 0a2.15 2.15 0 1 0 -4.3 0zM142.69 304.58a2.15 2.15 0 1 0 4.3 0a2.15 2.15 0 1 0 -4.3 0zM145.19 290.77a2.15 2.15 0 1 0 4.3 0a2.15 2.15 0 1 0 -4.3 0zM147.68 289.86a2.15 2.15 0 1 0 4.3 0a2.15 2.15 0 1 0 -4.3 0zM150.18 297.49a2.15 2.15 0 1 0 4.3 0a2.15 2.15 0 1 0 -4.3 0zM152.67 301.67a2.15 2.15 0 1 0 4.3 0a2.15 2.15 0 1 0 -4.3 0zM155.17 308.76a2.15 2.15 0 1 0 4.3 0a2.15 2.15 0 1 0 -4.3 0zM157.67 308.76a2.15 2.15 0 1 0 4.3 0a2.15 2.15 0 1 0 -4.3 0zM160.16 307.3a2.15 2.15 0 1 0 4.3 0a2.15 2.15 0 1 0 -4.3 0zM162.66 307.67a2.15 2.15 0 1 0 4.3 0a2.15 2.15 0 1 0 -4.3 0zM165.15 307.3a2.15 2.15 0 1 0 4.3 0a2.15 2.15 0 1 0 -4.3 0zM167.65 307.3a2.15 2.15 0 1 0 4.3 0a2.15 2.15 0 1 0 -4.3 0zM170.15 308.76a2.15 2.15 0 1 0 4.3 0a2.15 2.15 0 1 0 -4.3 0zM172.64 312.21a2.15 2.15 0 1 0 4.3 0a2.15 2.15 0 1 0 -4.3 0zM175.14 317.12a2.15 2.15 0 1 0 4.3 0a2.15 2.15 0 1 0 -4.3 0zM177.63 326.56a2.15 2.15 0 1 0 4.3 0a2.15 2.15 0 1 0 -4.3 0zM179.63 339.46a2.15 2.15 0 1 0 4.3 0a2.15 2.15 0 1 0 -4.3 0zM182.13 332.2a2.15 2.15 0 1 0 4.3 0a2.15 2.15 0 1 0 -4.3 0zM184.62 323.47a2.15 2.15 0 1 0 4.3 0a2.15 2.15 0 1 0 -4.3 0zM187.12 316.03a2.15 2.15 0 1 0 4.3 0a2.15 2.15 0 1 0 -4.3 0zM189.61 302.4a2.15 2.15 0 1 0 4.3 0a2.15 2.15 0 1 0 -4.3 0zM192.11 294.95a2.15 2.15 0 1 0 4.3 0a2.15 2.15 0 1 0 -4.3 0zM194.61 290.41a2.15 2.15 0 1 0 4.3 0a2.15 2.15 0 1 0 -4.3 0zM197.1 285.32a2.15 2.15 0 1 0 4.3 0a2.15 2.15 0 1 0 -4.3 0zM200.1 288.41a2.15 2.15 0 1 0 4.3 0a2.15 2.15 0 1 0 -4.3 0zM202.59 290.41a2.15 2.15 0 1 0 4.3 0a2.15 2.15 0 1 0 -4.3 0zM205.09 290.41a2.15 2.15 0 1 0 4.3 0a2.15 2.15 0 1 0 -4.3 0zM207.08 285.68a2.15 2.15 0 1 0 4.3 0a2.15 2.15 0 1 0 -4.3 0zM209.58 288.41a2.15 2.15 0 1 0 4.3 0a2.15 2.15 0 1 0 -4.3 0zM212.08 289.86a2.15 2.15 0 1 0 4.3 0a2.15 2.15 0 1 0 -4.3 0zM214.57 291.86a2.15 2.15 0 1 0 4.3 0a2.15 2.15 0 1 0 -4.3 0zM217.07 294.95a2.15 2.15 0 1 0 4.3 0a2.15 2.15 0 1 0 -4.3 0zM219.56 292.95a2.15 2.15 0 1 0 4.3 0a2.15 2.15 0 1 0 -4.3 0zM222.06 291.86a2.15 2.15 0 1 0 4.3 0a2.15 2.15 0 1 0 -4.3 0zM224.56 293.31a2.15 2.15 0 1 0 4.3 0a2.15 2.15 0 1 0 -4.3 0zM227.05 298.76a2.15 2.15 0 1 0 4.3 0a2.15 2.15 0 1 0 -4.3 0zM229.55 301.31a2.15 2.15 0 1 0 4.3 0a2.15 2.15 0 1 0 -4.3 0zM232.04 304.58a2.15 2.15 0 1 0 4.3 0a2.15 2.15 0 1 0 -4.3 0zM234.54 310.76a2.15 2.15 0 1 0 4.3 0a2.15 2.15 0 1 0 -4.3 0zM237.03 316.03a2.15 2.15 0 1 0 4.3 0a2.15 2.15 0 1 0 -4.3 0zM239.53 322.02a2.15 2.15 0 1 0 4.3 0a2.15 2.15 0 1 0 -4.3 0zM242.03 326.2a2.15 2.15 0 1 0 4.3 0a2.15 2.15 0 1 0 -4.3 0zM244.52 329.11a2.15 2.15 0 1 0 4.3 0a2.15 2.15 0 1 0 -4.3 0zM247.02 330.74a2.15 2.15 0 1 0 4.3 0a2.15 2.15 0 1 0 -4.3 0zM249.51 332.38a2.15 2.15 0 1 0 4.3 0a2.15 2.15 0 1 0 -4.3 0zM252.01 332.92a2.15 2.15 0 1 0 4.3 0a2.15 2.15 0 1 0 -4.3 0zM254.5 331.83a2.15 2.15 0 1 0 4.3 0a2.15 2.15 0 1 0 -4.3 0zM257 330.74a2.15 2.15 0 1 0 4.3 0a2.15 2.15 0 1 0 -4.3 0zM259.5 331.29a2.15 2.15 0 1 0 4.3 0a2.15 2.15 0 1 0 -4.3 0zM261.99 331.29a2.15 2.15 0 1 0 4.3 0a2.15 2.15 0 1 0 -4.3 0zM264.49 329.11a2.15 2.15 0 1 0 4.3 0a2.15 2.15 0 1 0 -4.3 0zM266.98 327.65a2.15 2.15 0 1 0 4.3 0a2.15 2.15 0 1 0 -4.3 0zM269.48 326.56a2.15 2.15 0 1 0 4.3 0a2.15 2.15 0 1 0 -4.3 0zM272.48 324.75a2.15 2.15 0 1 0 4.3 0a2.15 2.15 0 1 0 -4.3 0zM275.47 321.29a2.15 2.15 0 1 0 4.3 0a2.15 2.15 0 1 0 -4.3 0zM277.97 318.21a2.15 2.15 0 1 0 4.3 0a2.15 2.15 0 1 0 -4.3 0zM280.46 312.94a2.15 2.15 0 1 0 4.3 0a2.15 2.15 0 1 0 -4.3 0zM282.96 307.3a2.15 2.15 0 1 0 4.3 0a2.15 2.15 0 1 0 -4.3 0zM285.45 306.03a2.15 2.15 0 1 0 4.3 0a2.15 2.15 0 1 0 -4.3 0zM287.45 303.85a2.15 2.15 0 1 0 4.3 0a2.15 2.15 0 1 0 -4.3 0zM289.95 308.76a2.15 2.15 0 1 0 4.3 0a2.15 2.15 0 1 0 -4.3 0zM292.44 304.58a2.15 2.15 0 1 0 4.3 0a2.15 2.15 0 1 0 -4.3 0zM294.44 310.21a2.15 2.15 0 1 0 4.3 0a2.15 2.15 0 1 0 -4.3 0zM296.93 312.21a2.15 2.15 0 1 0 4.3 0a2.15 2.15 0 1 0 -4.3 0zM299.43 313.48a2.15 2.15 0 1 0 4.3 0a2.15 2.15 0 1 0 -4.3 0zM301.93 311.85a2.15 2.15 0 1 0 4.3 0a2.15 2.15 0 1 0 -4.3 0zM304.42 316.39a2.15 2.15 0 1 0 4.3 0a2.15 2.15 0 1 0 -4.3 0zM306.92 313.48a2.15 2.15 0 1 0 4.3 0a2.15 2.15 0 1 0 -4.3 0zM309.41 317.84a2.15 2.15 0 1 0 4.3 0a2.15 2.15 0 1 0 -4.3 0zM311.91 317.12a2.15 2.15 0 1 0 4.3 0a2.15 2.15 0 1 0 -4.3 0zM314.41 323.47a2.15 2.15 0 1 0 4.3 0a2.15 2.15 0 1 0 -4.3 0zM316.9 323.47a2.15 2.15 0 1 0 4.3 0a2.15 2.15 0 1 0 -4.3 0zM319.4 329.83a2.15 2.15 0 1 0 4.3 0a2.15 2.15 0 1 0 -4.3 0zM321.89 329.11a2.15 2.15 0 1 0 4.3 0a2.15 2.15 0 1 0 -4.3 0zM324.39 329.11a2.15 2.15 0 1 0 4.3 0a2.15 2.15 0 1 0 -4.3 0zM326.88 329.11a2.15 2.15 0 1 0 4.3 0a2.15 2.15 0 1 0 -4.3 0zM329.38 329.83a2.15 2.15 0 1 0 4.3 0a2.15 2.15 0 1 0 -4.3 0zM332.38 338.56a2.15 2.15 0 1 0 4.3 0a2.15 2.15 0 1 0 -4.3 0zM334.87 344.19a2.15 2.15 0 1 0 4.3 0a2.15 2.15 0 1 0 -4.3 0zM337.37 351.64a2.15 2.15 0 1 0 4.3 0a2.15 2.15 0 1 0 -4.3 0zM339.86 358a2.15 2.15 0 1 0 4.3 0a2.15 2.15 0 1 0 -4.3 0zM342.36 360a2.15 2.15 0 1 0 4.3 0a2.15 2.15 0 1 0 -4.3 0zM344.36 322.38a2.15 2.15 0 1 0 4.3 0a2.15 2.15 0 1 0 -4.3 0z" fill="#ff0000"/>
<path d="M54.99 320.93L57.49 347.46L59.98 335.47L62.48 347.46L64.97 352.18L67.47 353.82L69.97 349.46L72.46 343.28L74.96 320.2L77.45 310.76L79.95 305.12L82.45 301.31L84.94 294.95L87.44 301.31L89.93 312.94L92.43 328.74L94.92 330.74L97.42 328.2L99.92 317.12L102.41 316.03L104.91 321.29L107.4 322.02L109.9 316.39L112.4 301.31L114.89 298.22L117.39 291.86L119.88 294.95L122.38 292.95L124.88 295.31L127.37 296.22L129.87 307.67L132.36 313.48L134.86 318.57L137.35 322.38L139.85 327.11L142.35 337.1L144.84 347.46L146.84 357.27L149.33 358.54L151.83 354.73L153.83 347.46L156.32 341.83L158.82 341.1L161.81 342.55L164.31 343.83L166.81 344.19L169.3 343.28L171.8 339.1L174.29 334.2L176.79 333.65L179.28 341.1L181.28 352.73L183.78 351.64L186.27 349.46L188.77 350.55L191.26 354.73L193.76 356.91L196.26 358.54L198.75 359.63L202.25 353.82L204.74 349.46L207.24 347.46L209.73 350.55L212.23 349.46L214.72 347.46L217.22 344.73L219.72 344.73L221.71 350.55L224.21 355.82L226.71 356.54L229.2 353.82L231.7 354.73L234.19 354.36L236.69 352.73L239.18 349.46L241.68 342.55L244.18 341.83L246.67 341.1L249.17 340.55L251.66 342.55L254.16 343.28L256.65 344.73L259.15 346.37L261.65 343.28L264.14 344.73L266.64 348L269.13 351.64L271.63 351.64L274.62 352.73L277.62 351.64L280.12 350.18L282.61 349.46L285.11 351.64L287.6 352.73L290.1 350.91L292.6 352.73L294.59 354.73L296.59 348L299.08 347.46L301.58 346.37L304.08 347.46L306.57 343.83L309.07 344.73L311.56 342.19L314.06 345.46L316.56 344.73L319.05 346.01L321.55 338.92L324.04 327.65L326.54 330.74L329.03 331.29L331.53 329.83L334.03 319.3L336.52 315.12L339.02 306.03L341.51 292.59L344.01 287.68L346.51 289.86" fill="none" stroke="#0b6cc4" stroke-width="1.8" stroke-linejoin="round" stroke-linecap="round"/>
<path d="M52.99 320.93a2.0 2.0 0 1 0 4 0a2.0 2.0 0 1 0 -4 0zM55.49 347.46a2.0 2.0 0 1 0 4 0a2.0 2.0 0 1 0 -4 0zM57.98 335.47a2.0 2.0 0 1 0 4 0a2.0 2.0 0 1 0 -4 0zM60.48 347.46a2.0 2.0 0 1 0 4 0a2.0 2.0 0 1 0 -4 0zM62.97 352.18a2.0 2.0 0 1 0 4 0a2.0 2.0 0 1 0 -4 0zM65.47 353.82a2.0 2.0 0 1 0 4 0a2.0 2.0 0 1 0 -4 0zM67.97 349.46a2.0 2.0 0 1 0 4 0a2.0 2.0 0 1 0 -4 0zM70.46 343.28a2.0 2.0 0 1 0 4 0a2.0 2.0 0 1 0 -4 0zM72.96 320.2a2.0 2.0 0 1 0 4 0a2.0 2.0 0 1 0 -4 0zM75.45 310.76a2.0 2.0 0 1 0 4 0a2.0 2.0 0 1 0 -4 0zM77.95 305.12a2.0 2.0 0 1 0 4 0a2.0 2.0 0 1 0 -4 0zM80.45 301.31a2.0 2.0 0 1 0 4 0a2.0 2.0 0 1 0 -4 0zM82.94 294.95a2.0 2.0 0 1 0 4 0a2.0 2.0 0 1 0 -4 0zM85.44 301.31a2.0 2.0 0 1 0 4 0a2.0 2.0 0 1 0 -4 0zM87.93 312.94a2.0 2.0 0 1 0 4 0a2.0 2.0 0 1 0 -4 0zM90.43 328.74a2.0 2.0 0 1 0 4 0a2.0 2.0 0 1 0 -4 0zM92.92 330.74a2.0 2.0 0 1 0 4 0a2.0 2.0 0 1 0 -4 0zM95.42 328.2a2.0 2.0 0 1 0 4 0a2.0 2.0 0 1 0 -4 0zM97.92 317.12a2.0 2.0 0 1 0 4 0a2.0 2.0 0 1 0 -4 0zM100.41 316.03a2.0 2.0 0 1 0 4 0a2.0 2.0 0 1 0 -4 0zM102.91 321.29a2.0 2.0 0 1 0 4 0a2.0 2.0 0 1 0 -4 0zM105.4 322.02a2.0 2.0 0 1 0 4 0a2.0 2.0 0 1 0 -4 0zM107.9 316.39a2.0 2.0 0 1 0 4 0a2.0 2.0 0 1 0 -4 0zM110.4 301.31a2.0 2.0 0 1 0 4 0a2.0 2.0 0 1 0 -4 0zM112.89 298.22a2.0 2.0 0 1 0 4 0a2.0 2.0 0 1 0 -4 0zM115.39 291.86a2.0 2.0 0 1 0 4 0a2.0 2.0 0 1 0 -4 0zM117.88 294.95a2.0 2.0 0 1 0 4 0a2.0 2.0 0 1 0 -4 0zM120.38 292.95a2.0 2.0 0 1 0 4 0a2.0 2.0 0 1 0 -4 0zM122.88 295.31a2.0 2.0 0 1 0 4 0a2.0 2.0 0 1 0 -4 0zM125.37 296.22a2.0 2.0 0 1 0 4 0a2.0 2.0 0 1 0 -4 0zM127.87 307.67a2.0 2.0 0 1 0 4 0a2.0 2.0 0 1 0 -4 0zM130.36 313.48a2.0 2.0 0 1 0 4 0a2.0 2.0 0 1 0 -4 0zM132.86 318.57a2.0 2.0 0 1 0 4 0a2.0 2.0 0 1 0 -4 0zM135.35 322.38a2.0 2.0 0 1 0 4 0a2.0 2.0 0 1 0 -4 0zM137.85 327.11a2.0 2.0 0 1 0 4 0a2.0 2.0 0 1 0 -4 0zM140.35 337.1a2.0 2.0 0 1 0 4 0a2.0 2.0 0 1 0 -4 0zM142.84 347.46a2.0 2.0 0 1 0 4 0a2.0 2.0 0 1 0 -4 0zM144.84 357.27a2.0 2.0 0 1 0 4 0a2.0 2.0 0 1 0 -4 0zM147.33 358.54a2.0 2.0 0 1 0 4 0a2.0 2.0 0 1 0 -4 0zM149.83 354.73a2.0 2.0 0 1 0 4 0a2.0 2.0 0 1 0 -4 0zM151.83 347.46a2.0 2.0 0 1 0 4 0a2.0 2.0 0 1 0 -4 0zM154.32 341.83a2.0 2.0 0 1 0 4 0a2.0 2.0 0 1 0 -4 0zM156.82 341.1a2.0 2.0 0 1 0 4 0a2.0 2.0 0 1 0 -4 0zM159.81 342.55a2.0 2.0 0 1 0 4 0a2.0 2.0 0 1 0 -4 0zM162.31 343.83a2.0 2.0 0 1 0 4 0a2.0 2.0 0 1 0 -4 0zM164.81 344.19a2.0 2.0 0 1 0 4 0a2.0 2.0 0 1 0 -4 0zM167.3 343.28a2.0 2.0 0 1 0 4 0a2.0 2.0 0 1 0 -4 0zM169.8 339.1a2.0 2.0 0 1 0 4 0a2.0 2.0 0 1 0 -4 0zM172.29 334.2a2.0 2.0 0 1 0 4 0a2.0 2.0 0 1 0 -4 0zM174.79 333.65a2.0 2.0 0 1 0 4 0a2.0 2.0 0 1 0 -4 0zM177.28 341.1a2.0 2.0 0 1 0 4 0a2.0 2.0 0 1 0 -4 0zM179.28 352.73a2.0 2.0 0 1 0 4 0a2.0 2.0 0 1 0 -4 0zM181.78 351.64a2.0 2.0 0 1 0 4 0a2.0 2.0 0 1 0 -4 0zM184.27 349.46a2.0 2.0 0 1 0 4 0a2.0 2.0 0 1 0 -4 0zM186.77 350.55a2.0 2.0 0 1 0 4 0a2.0 2.0 0 1 0 -4 0zM189.26 354.73a2.0 2.0 0 1 0 4 0a2.0 2.0 0 1 0 -4 0zM191.76 356.91a2.0 2.0 0 1 0 4 0a2.0 2.0 0 1 0 -4 0zM194.26 358.54a2.0 2.0 0 1 0 4 0a2.0 2.0 0 1 0 -4 0zM196.75 359.63a2.0 2.0 0 1 0 4 0a2.0 2.0 0 1 0 -4 0zM200.25 353.82a2.0 2.0 0 1 0 4 0a2.0 2.0 0 1 0 -4 0zM202.74 349.46a2.0 2.0 0 1 0 4 0a2.0 2.0 0 1 0 -4 0zM205.24 347.46a2.0 2.0 0 1 0 4 0a2.0 2.0 0 1 0 -4 0zM207.73 350.55a2.0 2.0 0 1 0 4 0a2.0 2.0 0 1 0 -4 0zM210.23 349.46a2.0 2.0 0 1 0 4 0a2.0 2.0 0 1 0 -4 0zM212.72 347.46a2.0 2.0 0 1 0 4 0a2.0 2.0 0 1 0 -4 0zM215.22 344.73a2.0 2.0 0 1 0 4 0a2.0 2.0 0 1 0 -4 0zM217.72 344.73a2.0 2.0 0 1 0 4 0a2.0 2.0 0 1 0 -4 0zM219.71 350.55a2.0 2.0 0 1 0 4 0a2.0 2.0 0 1 0 -4 0zM222.21 355.82a2.0 2.0 0 1 0 4 0a2.0 2.0 0 1 0 -4 0zM224.71 356.54a2.0 2.0 0 1 0 4 0a2.0 2.0 0 1 0 -4 0zM227.2 353.82a2.0 2.0 0 1 0 4 0a2.0 2.0 0 1 0 -4 0zM229.7 354.73a2.0 2.0 0 1 0 4 0a2.0 2.0 0 1 0 -4 0zM232.19 354.36a2.0 2.0 0 1 0 4 0a2.0 2.0 0 1 0 -4 0zM234.69 352.73a2.0 2.0 0 1 0 4 0a2.0 2.0 0 1 0 -4 0zM237.18 349.46a2.0 2.0 0 1 0 4 0a2.0 2.0 0 1 0 -4 0zM239.68 342.55a2.0 2.0 0 1 0 4 0a2.0 2.0 0 1 0 -4 0zM242.18 341.83a2.0 2.0 0 1 0 4 0a2.0 2.0 0 1 0 -4 0zM244.67 341.1a2.0 2.0 0 1 0 4 0a2.0 2.0 0 1 0 -4 0zM247.17 340.55a2.0 2.0 0 1 0 4 0a2.0 2.0 0 1 0 -4 0zM249.66 342.55a2.0 2.0 0 1 0 4 0a2.0 2.0 0 1 0 -4 0zM252.16 343.28a2.0 2.0 0 1 0 4 0a2.0 2.0 0 1 0 -4 0zM254.65 344.73a2.0 2.0 0 1 0 4 0a2.0 2.0 0 1 0 -4 0zM257.15 346.37a2.0 2.0 0 1 0 4 0a2.0 2.0 0 1 0 -4 0zM259.65 343.28a2.0 2.0 0 1 0 4 0a2.0 2.0 0 1 0 -4 0zM262.14 344.73a2.0 2.0 0 1 0 4 0a2.0 2.0 0 1 0 -4 0zM264.64 348a2.0 2.0 0 1 0 4 0a2.0 2.0 0 1 0 -4 0zM267.13 351.64a2.0 2.0 0 1 0 4 0a2.0 2.0 0 1 0 -4 0zM269.63 351.64a2.0 2.0 0 1 0 4 0a2.0 2.0 0 1 0 -4 0zM272.62 352.73a2.0 2.0 0 1 0 4 0a2.0 2.0 0 1 0 -4 0zM275.62 351.64a2.0 2.0 0 1 0 4 0a2.0 2.0 0 1 0 -4 0zM278.12 350.18a2.0 2.0 0 1 0 4 0a2.0 2.0 0 1 0 -4 0zM280.61 349.46a2.0 2.0 0 1 0 4 0a2.0 2.0 0 1 0 -4 0zM283.11 351.64a2.0 2.0 0 1 0 4 0a2.0 2.0 0 1 0 -4 0zM285.6 352.73a2.0 2.0 0 1 0 4 0a2.0 2.0 0 1 0 -4 0zM288.1 350.91a2.0 2.0 0 1 0 4 0a2.0 2.0 0 1 0 -4 0zM290.6 352.73a2.0 2.0 0 1 0 4 0a2.0 2.0 0 1 0 -4 0zM292.59 354.73a2.0 2.0 0 1 0 4 0a2.0 2.0 0 1 0 -4 0zM294.59 348a2.0 2.0 0 1 0 4 0a2.0 2.0 0 1 0 -4 0zM297.08 347.46a2.0 2.0 0 1 0 4 0a2.0 2.0 0 1 0 -4 0zM299.58 346.37a2.0 2.0 0 1 0 4 0a2.0 2.0 0 1 0 -4 0zM302.08 347.46a2.0 2.0 0 1 0 4 0a2.0 2.0 0 1 0 -4 0zM304.57 343.83a2.0 2.0 0 1 0 4 0a2.0 2.0 0 1 0 -4 0zM307.07 344.73a2.0 2.0 0 1 0 4 0a2.0 2.0 0 1 0 -4 0zM309.56 342.19a2.0 2.0 0 1 0 4 0a2.0 2.0 0 1 0 -4 0zM312.06 345.46a2.0 2.0 0 1 0 4 0a2.0 2.0 0 1 0 -4 0zM314.56 344.73a2.0 2.0 0 1 0 4 0a2.0 2.0 0 1 0 -4 0zM317.05 346.01a2.0 2.0 0 1 0 4 0a2.0 2.0 0 1 0 -4 0zM319.55 338.92a2.0 2.0 0 1 0 4 0a2.0 2.0 0 1 0 -4 0zM322.04 327.65a2.0 2.0 0 1 0 4 0a2.0 2.0 0 1 0 -4 0zM324.54 330.74a2.0 2.0 0 1 0 4 0a2.0 2.0 0 1 0 -4 0zM327.03 331.29a2.0 2.0 0 1 0 4 0a2.0 2.0 0 1 0 -4 0zM329.53 329.83a2.0 2.0 0 1 0 4 0a2.0 2.0 0 1 0 -4 0zM332.03 319.3a2.0 2.0 0 1 0 4 0a2.0 2.0 0 1 0 -4 0zM334.52 315.12a2.0 2.0 0 1 0 4 0a2.0 2.0 0 1 0 -4 0zM337.02 306.03a2.0 2.0 0 1 0 4 0a2.0 2.0 0 1 0 -4 0zM339.51 292.59a2.0 2.0 0 1 0 4 0a2.0 2.0 0 1 0 -4 0zM342.01 287.68a2.0 2.0 0 1 0 4 0a2.0 2.0 0 1 0 -4 0zM344.51 289.86a2.0 2.0 0 1 0 4 0a2.0 2.0 0 1 0 -4 0z" fill="#4a97e6" fill-opacity="0.75" stroke="#0b6cc4" stroke-width="1.15"/>
</g>
<rect x="50" y="215" width="299.5" height="181.7" fill="none" stroke="#000" stroke-width="1.45"/>
<path d="M50 393.07h2.3M50 389.43h2.3M50 385.8h2.3M50 382.16h2.3M50 374.9h2.3M50 371.26h2.3M50 367.63h2.3M50 363.99h2.3M50 356.73h2.3M50 353.09h2.3M50 349.46h2.3M50 345.82h2.3M50 338.56h2.3M50 334.92h2.3M50 331.29h2.3M50 327.65h2.3M50 320.39h2.3M50 316.75h2.3M50 313.12h2.3M50 309.48h2.3M50 302.22h2.3M50 298.58h2.3M50 294.95h2.3M50 291.31h2.3M50 284.05h2.3M50 280.41h2.3M50 276.78h2.3M50 273.14h2.3M50 265.88h2.3M50 262.24h2.3M50 258.61h2.3M50 254.97h2.3M50 247.71h2.3M50 244.07h2.3M50 240.44h2.3M50 236.8h2.3M50 229.54h2.3M50 225.9h2.3M50 222.27h2.3M50 218.63h2.3" stroke="#000" stroke-width="0.7" fill="none"/>
<path d="M50 378.53h2.2M52.7 378.53h1.2M50 360.36h2.2M52.7 360.36h1.2M50 342.19h2.2M52.7 342.19h1.2M50 324.02h2.2M52.7 324.02h1.2M50 305.85h2.2M52.7 305.85h1.2M50 287.68h2.2M52.7 287.68h1.2M50 269.51h2.2M52.7 269.51h1.2M50 251.34h2.2M52.7 251.34h1.2M50 233.17h2.2M52.7 233.17h1.2" stroke="#000" stroke-width="0.9" fill="none"/>
<path d="M59.98 396.7v-1.9M69.97 396.7v-1.9M79.95 396.7v-1.9M89.93 396.7v-1.9M109.9 396.7v-1.9M119.88 396.7v-1.9M129.87 396.7v-1.9M139.85 396.7v-1.9M159.82 396.7v-1.9M169.8 396.7v-1.9M179.78 396.7v-1.9M189.77 396.7v-1.9M209.73 396.7v-1.9M219.72 396.7v-1.9M229.7 396.7v-1.9M239.68 396.7v-1.9M259.65 396.7v-1.9M269.63 396.7v-1.9M279.62 396.7v-1.9M289.6 396.7v-1.9M309.57 396.7v-1.9M319.55 396.7v-1.9M329.53 396.7v-1.9M339.52 396.7v-1.9" stroke="#000" stroke-width="0.6" fill="none"/>
<path d="M99.92 396.7v-3.4M149.83 396.7v-3.4M199.75 396.7v-3.4M249.67 396.7v-3.4M299.58 396.7v-3.4" stroke="#000" stroke-width="0.7" fill="none"/>
<text class="tk" x="45.6" y="401.2" text-anchor="end">0</text>
<text class="tk" x="45.6" y="364.86" text-anchor="end">20</text>
<text class="tk" x="45.6" y="328.52" text-anchor="end">40</text>
<text class="tk" x="45.6" y="292.18" text-anchor="end">60</text>
<text class="tk" x="45.6" y="255.84" text-anchor="end">80</text>
<text class="tk" x="45.6" y="219.5" text-anchor="end">100</text>
<text class="tk" x="50" y="411.3" text-anchor="middle">2.0</text>
<text class="tk" x="99.92" y="411.3" text-anchor="middle">3.0</text>
<text class="tk" x="149.83" y="411.3" text-anchor="middle">4.0</text>
<text class="tk" x="199.75" y="411.3" text-anchor="middle">5.0</text>
<text class="tk" x="249.67" y="411.3" text-anchor="middle">6.0</text>
<text class="tk" x="299.58" y="411.3" text-anchor="middle">7.0</text>
<text class="tk" x="349.5" y="411.3" text-anchor="middle">8.0</text>
<rect x="303.3" y="218" width="42.4" height="64.8" fill="#fff" stroke="#444" stroke-width="0.6"/>
<path d="M308.8 226.3H324.3" stroke="#00a550" stroke-width="1.5" fill="none"/>
<path d="M316.5 224l2 3.5h-4z" fill="#00a550"/>
<text class="lg" transform="translate(328.4 228.7) scale(0.87 1)">p</text>
<text class="lgs" x="335" y="233.2">0</text>
<path d="M308.8 242.05H324.3" stroke="#000000" stroke-width="1.5" fill="none"/>
<circle cx="316.5" cy="242.05" r="1.75" fill="#000000"/>
<text class="lg" transform="translate(328.4 244.45) scale(0.87 1)">p</text>
<text class="lgs" x="335" y="248.95">1</text>
<path d="M308.8 257.8H324.3" stroke="#ff0000" stroke-width="1.5" fill="none"/>
<circle cx="316.5" cy="257.8" r="1.75" fill="#ff0000"/>
<text class="lg" transform="translate(328.4 260.2) scale(0.87 1)">p</text>
<text class="lgs" x="335" y="264.7">2</text>
<path d="M308.8 273.55H324.3" stroke="#0b6cc4" stroke-width="1.5" fill="none"/>
<circle cx="316.5" cy="273.55" r="1.5" fill="#3f8fe0" stroke="#0b6cc4" stroke-width="0.9"/>
<text class="lg" transform="translate(328.4 275.95) scale(0.87 1)">p</text>
<text class="lgs" x="335" y="280.45">3</text>
</g>
<text class="pl" x="337.6" y="181.3" text-anchor="middle">(a)</text>
<text class="pl" x="337.9" y="390.8" text-anchor="middle">(b)</text>
<text transform="translate(10.3 130.4) rotate(-90)" class="ax" style="font-size:15px"><tspan style="font-weight:normal;font-size:17.5px" dy="1.2">σ</tspan><tspan style="font-style:italic;font-size:10px;font-weight:normal" dy="2.4">c.m.</tspan><tspan dy="-3.6">(mb)</tspan></text>
<text transform="translate(10.2 299.7) rotate(-90)" class="ax" text-anchor="middle" style="font-style:italic;letter-spacing:0.2px">Contribution (%)</text>
<text class="ax" style="font-size:16px" x="161" y="434.9"><tspan style="font-style:italic">E</tspan><tspan style="font-size:10px;font-weight:normal" dy="3">α</tspan><tspan dy="-3"> (MeV)</tspan></text>
</svg>
</body></html>
